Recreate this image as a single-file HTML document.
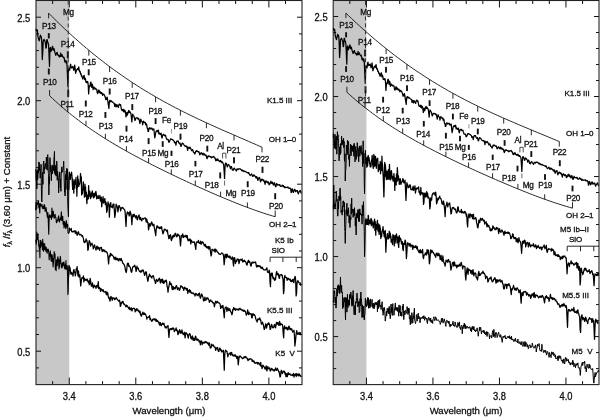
<!DOCTYPE html>
<html><head><meta charset="utf-8"><style>html,body{margin:0;padding:0;background:#fff;width:600px;height:417px;overflow:hidden} svg text{stroke:#111;stroke-width:0.3px}</style></head>
<body><svg width="600" height="417" viewBox="0 0 600 417" style="display:block;will-change:transform">
<g style="font-family:'Liberation Sans',sans-serif" fill="#111">
<rect x="36" y="0.5" width="33.27" height="384.1" fill="#c8c8c8"/>
<path d="M52.63,384.6 V381.1 M52.63,0.5 V4 M69.27,384.6 V377.6 M69.27,0.5 V7.5 M85.9,384.6 V381.1 M85.9,0.5 V4 M102.54,384.6 V381.1 M102.54,0.5 V4 M119.17,384.6 V381.1 M119.17,0.5 V4 M135.81,384.6 V377.6 M135.81,0.5 V7.5 M152.45,384.6 V381.1 M152.45,0.5 V4 M169.08,384.6 V381.1 M169.08,0.5 V4 M185.72,384.6 V381.1 M185.72,0.5 V4 M202.35,384.6 V377.6 M202.35,0.5 V7.5 M218.98,384.6 V381.1 M218.98,0.5 V4 M235.62,384.6 V381.1 M235.62,0.5 V4 M252.25,384.6 V381.1 M252.25,0.5 V4 M268.89,384.6 V377.6 M268.89,0.5 V7.5 M285.52,384.6 V381.1 M285.52,0.5 V4 M36,367.9 H39 M302,367.9 H299 M36,351.2 H41 M302,351.2 H297 M36,334.5 H39 M302,334.5 H299 M36,317.8 H39 M302,317.8 H299 M36,301.1 H39 M302,301.1 H299 M36,284.4 H39 M302,284.4 H299 M36,267.7 H41 M302,267.7 H297 M36,251 H39 M302,251 H299 M36,234.3 H39 M302,234.3 H299 M36,217.6 H39 M302,217.6 H299 M36,200.9 H39 M302,200.9 H299 M36,184.2 H41 M302,184.2 H297 M36,167.5 H39 M302,167.5 H299 M36,150.8 H39 M302,150.8 H299 M36,134.1 H39 M302,134.1 H299 M36,117.4 H39 M302,117.4 H299 M36,100.7 H41 M302,100.7 H297 M36,84 H39 M302,84 H299 M36,67.3 H39 M302,67.3 H299 M36,50.6 H39 M302,50.6 H299 M36,33.9 H39 M302,33.9 H299 M36,17.2 H41 M302,17.2 H297" stroke="#111" stroke-width="1" fill="none"/>
<rect x="36" y="0.5" width="266" height="384.1" fill="none" stroke="#222" stroke-width="1.1"/>
<rect x="333.2" y="0.5" width="33.25" height="384.1" fill="#c8c8c8"/>
<path d="M349.82,384.6 V381.1 M349.82,0.5 V4 M366.45,384.6 V377.6 M366.45,0.5 V7.5 M383.07,384.6 V381.1 M383.07,0.5 V4 M399.7,384.6 V381.1 M399.7,0.5 V4 M416.32,384.6 V381.1 M416.32,0.5 V4 M432.95,384.6 V377.6 M432.95,0.5 V7.5 M449.58,384.6 V381.1 M449.58,0.5 V4 M466.2,384.6 V381.1 M466.2,0.5 V4 M482.83,384.6 V381.1 M482.83,0.5 V4 M499.45,384.6 V377.6 M499.45,0.5 V7.5 M516.07,384.6 V381.1 M516.07,0.5 V4 M532.7,384.6 V381.1 M532.7,0.5 V4 M549.32,384.6 V381.1 M549.32,0.5 V4 M565.95,384.6 V377.6 M565.95,0.5 V7.5 M582.58,384.6 V381.1 M582.58,0.5 V4 M333.2,368.6 H336.2 M599,368.6 H596 M333.2,352.59 H336.2 M599,352.59 H596 M333.2,336.59 H338.2 M599,336.59 H594 M333.2,320.58 H336.2 M599,320.58 H596 M333.2,304.58 H336.2 M599,304.58 H596 M333.2,288.58 H336.2 M599,288.58 H596 M333.2,272.57 H336.2 M599,272.57 H596 M333.2,256.57 H338.2 M599,256.57 H594 M333.2,240.56 H336.2 M599,240.56 H596 M333.2,224.56 H336.2 M599,224.56 H596 M333.2,208.55 H336.2 M599,208.55 H596 M333.2,192.55 H336.2 M599,192.55 H596 M333.2,176.55 H338.2 M599,176.55 H594 M333.2,160.54 H336.2 M599,160.54 H596 M333.2,144.54 H336.2 M599,144.54 H596 M333.2,128.53 H336.2 M599,128.53 H596 M333.2,112.53 H336.2 M599,112.53 H596 M333.2,96.53 H338.2 M599,96.53 H594 M333.2,80.52 H336.2 M599,80.52 H596 M333.2,64.52 H336.2 M599,64.52 H596 M333.2,48.51 H336.2 M599,48.51 H596 M333.2,32.51 H336.2 M599,32.51 H596 M333.2,16.5 H338.2 M599,16.5 H594" stroke="#111" stroke-width="1" fill="none"/>
<rect x="333.2" y="0.5" width="265.8" height="384.1" fill="none" stroke="#222" stroke-width="1.1"/>
<path d="M36,28.84 L36.45,30.6 L36.9,30.97 L37.35,30.01 L37.8,35.52 L38.25,37.92 L38.7,39.53 L39.15,40.85 L39.6,38.99 L40.05,36.28 L40.5,35.18 L40.95,37.08 L41.4,36.98 L41.85,43.36 L42.3,59.52 L42.75,52.57 L43.2,41.26 L43.65,40.16 L44.1,39.41 L44.55,40.4 L45,41.31 L45.45,42.97 L45.9,48.11 L46.35,47.35 L46.8,39.58 L47.25,39.81 L47.7,42.28 L48.15,42.81 L48.6,45.4 L49.05,55.78 L49.5,66.46 L49.95,48.77 L50.4,47.48 L50.85,51.5 L51.3,50.63 L51.75,49.1 L52.2,47.2 L52.65,46.34 L53.1,50.16 L53.55,50.02 L54,48.6 L54.45,50.49 L54.9,52.74 L55.35,53.53 L55.8,55.33 L56.25,53.83 L56.7,52.75 L57.15,52.42 L57.6,54.38 L58.05,55.29 L58.5,55.66 L58.95,55.3 L59.4,57.02 L59.85,55.32 L60.3,56.41 L60.75,53.2 L61.2,56.48 L61.65,55.84 L62.1,54.71 L62.55,56.38 L63,57.18 L63.45,57.66 L63.9,57.14 L64.35,59.02 L64.8,61.84 L65.25,60.31 L65.7,61.26 L66.15,63.2 L66.6,61.05 L67.05,65.59 L67.5,76.55 L67.95,86.37 L68.4,71.1 L68.85,68.47 L69.3,68.82 L69.75,70.26 L70.2,65.94 L70.65,64.26 L71.1,67.44 L71.55,67.98 L72,67.75 L72.45,66.45 L72.9,66.51 L73.35,68.5 L73.8,70.37 L74.25,68.49 L74.7,65.09 L75.15,68.68 L75.6,73.31 L76.05,71.54 L76.5,70.63 L76.95,69.21 L77.4,68.91 L77.85,68.35 L78.3,69.71 L78.75,66.94 L79.2,70.5 L79.65,71.92 L80.1,71.31 L80.55,74.02 L81,73.64 L81.45,76.16 L81.9,75.86 L82.35,77.51 L82.8,79.11 L83.25,77.37 L83.7,75.8 L84.15,75.48 L84.6,79.64 L85.05,77.99 L85.5,79.02 L85.95,82.28 L86.4,81.58 L86.85,82.65 L87.3,81.49 L87.75,81.82 L88.2,84.82 L88.65,93.93 L89.1,87.5 L89.55,85.94 L90,86.6 L90.45,82.69 L90.9,82.1 L91.35,85.25 L91.8,87.49 L92.25,84.17 L92.7,85.62 L93.15,89.67 L93.6,87.57 L94.05,87.22 L94.5,87.91 L94.95,89.11 L95.4,88.26 L95.85,89.08 L96.3,89.01 L96.75,89.3 L97.2,92.66 L97.65,93.58 L98.1,92.4 L98.55,90.17 L99,90.06 L99.45,92.72 L99.9,91.25 L100.35,92.22 L100.8,93.53 L101.25,92.55 L101.7,92.5 L102.15,94 L102.6,95.32 L103.05,93.82 L103.5,94.56 L103.95,94.31 L104.4,94.98 L104.85,96.38 L105.3,97.36 L105.75,99.74 L106.2,97.99 L106.65,99.44 L107.1,97.15 L107.55,99.31 L108,102.37 L108.45,105.38 L108.9,108.42 L109.35,102.01 L109.8,100.29 L110.25,100.56 L110.7,101.85 L111.15,101.1 L111.6,100.93 L112.05,101.76 L112.5,102.09 L112.95,102.49 L113.4,102.73 L113.85,103.19 L114.3,103.31 L114.75,106.37 L115.2,104.35 L115.65,104.22 L116.1,106.91 L116.55,105.9 L117,104.61 L117.45,105.77 L117.9,106.55 L118.35,107.46 L118.8,105.13 L119.25,104.04 L119.7,104.25 L120.15,105.16 L120.6,104.72 L121.05,107.42 L121.5,109.54 L121.95,110.56 L122.4,109.93 L122.85,109.4 L123.3,111.31 L123.75,109.31 L124.2,112.19 L124.65,110.26 L125.1,110.71 L125.55,112.6 L126,116.9 L126.45,115.43 L126.9,112.4 L127.35,115.05 L127.8,113.57 L128.25,111.95 L128.7,110.44 L129.15,112.64 L129.6,111.26 L130.05,111.95 L130.5,112.97 L130.95,113.59 L131.4,117.4 L131.85,121.83 L132.3,116.45 L132.75,114.17 L133.2,115.28 L133.65,115.95 L134.1,116.65 L134.55,118.76 L135,120.51 L135.45,119.47 L135.9,117.83 L136.35,117.96 L136.8,117.89 L137.25,118.11 L137.7,117.86 L138.15,119.21 L138.6,118.54 L139.05,119.09 L139.5,121.43 L139.95,123.69 L140.4,121.5 L140.85,119.23 L141.3,121 L141.75,121.29 L142.2,121.53 L142.65,124.76 L143.1,122.38 L143.55,121.13 L144,122.12 L144.45,122.44 L144.9,122.96 L145.35,122.42 L145.8,124.89 L146.25,123.77 L146.7,124.6 L147.15,128.09 L147.6,128.37 L148.05,131.39 L148.5,131.45 L148.95,128.72 L149.4,127.7 L149.85,127.93 L150.3,129.02 L150.75,128.27 L151.2,128.79 L151.65,128.08 L152.1,128.43 L152.55,130.03 L153,129.24 L153.45,129.17 L153.9,129.01 L154.35,133.81 L154.8,137.92 L155.25,135.73 L155.7,132.91 L156.15,131.11 L156.6,131.45 L157.05,130.43 L157.5,130.86 L157.95,131.91 L158.4,130.18 L158.85,133.98 L159.3,132.82 L159.75,134.09 L160.2,134.39 L160.65,133.49 L161.1,133.17 L161.55,136.5 L162,138.1 L162.45,136.17 L162.9,134.66 L163.35,134.95 L163.8,134.28 L164.25,135.54 L164.7,135.78 L165.15,135.38 L165.6,135.26 L166.05,137.4 L166.5,138.68 L166.95,139.39 L167.4,139.51 L167.85,139.42 L168.3,139.82 L168.75,142.2 L169.2,142.17 L169.65,141.03 L170.1,140.05 L170.55,138.82 L171,138.89 L171.45,139.32 L171.9,139.37 L172.35,139.54 L172.8,140.04 L173.25,140.07 L173.7,140.94 L174.15,141.26 L174.6,142.95 L175.05,142.3 L175.5,142.26 L175.95,145.26 L176.4,142.41 L176.85,141.02 L177.3,141.2 L177.75,141.41 L178.2,140.98 L178.65,142.63 L179.1,143.21 L179.55,143.93 L180,142.95 L180.45,144.43 L180.9,146.48 L181.35,145.92 L181.8,144.18 L182.25,143.05 L182.7,143.28 L183.15,143.82 L183.6,143.96 L184.05,145.03 L184.5,145.79 L184.95,145.98 L185.4,146.44 L185.85,145.99 L186.3,146.56 L186.75,146.23 L187.2,147.97 L187.65,150.45 L188.1,147.14 L188.55,147.75 L189,147.82 L189.45,148.34 L189.9,147.16 L190.35,147.84 L190.8,148.63 L191.25,149.93 L191.7,150.81 L192.15,149.9 L192.6,149.57 L193.05,150.93 L193.5,152.3 L193.95,152.31 L194.4,153.21 L194.85,154.07 L195.3,152.76 L195.75,151.08 L196.2,151.63 L196.65,150.66 L197.1,151.52 L197.55,151.11 L198,151.75 L198.45,152.13 L198.9,151.73 L199.35,153.26 L199.8,154.91 L200.25,154.4 L200.7,153.48 L201.15,152.57 L201.6,153.56 L202.05,153.83 L202.5,154.77 L202.95,153.11 L203.4,153.84 L203.85,155.06 L204.3,153.84 L204.75,154.17 L205.2,155.16 L205.65,155.64 L206.1,155.16 L206.55,157.12 L207,158.72 L207.45,157.82 L207.9,156.02 L208.35,156.48 L208.8,155.75 L209.25,156.43 L209.7,156.41 L210.15,156.99 L210.6,156.72 L211.05,156.66 L211.5,157.95 L211.95,157.62 L212.4,156.93 L212.85,156.96 L213.3,156.96 L213.75,156.33 L214.2,157.65 L214.65,157.98 L215.1,157.9 L215.55,160.08 L216,160.83 L216.45,159.92 L216.9,159.12 L217.35,160.32 L217.8,158.87 L218.25,160.23 L218.7,160.77 L219.15,160.84 L219.6,161.72 L220.05,160.82 L220.5,160.45 L220.95,161.96 L221.4,161.48 L221.85,162.73 L222.3,161.82 L222.75,162.65 L223.2,163.57 L223.65,164.3 L224.1,170.93 L224.55,178.44 L225,167.73 L225.45,163.24 L225.9,162.99 L226.35,163.64 L226.8,165.08 L227.25,166.91 L227.7,165.96 L228.15,164.3 L228.6,164.79 L229.05,165.07 L229.5,166.02 L229.95,166.27 L230.4,168.64 L230.85,167.07 L231.3,166.54 L231.75,167.48 L232.2,169.89 L232.65,169.95 L233.1,170.43 L233.55,169.07 L234,168.27 L234.45,168.14 L234.9,169.18 L235.35,169.64 L235.8,170.06 L236.25,171.01 L236.7,169.48 L237.15,168.88 L237.6,169 L238.05,169.78 L238.5,169.08 L238.95,168.62 L239.4,168.91 L239.85,168.95 L240.3,168.8 L240.75,169.45 L241.2,169.69 L241.65,170.6 L242.1,169.83 L242.55,170.72 L243,171.09 L243.45,170.61 L243.9,171.53 L244.35,171.34 L244.8,171.14 L245.25,171.7 L245.7,171.78 L246.15,171.93 L246.6,172.28 L247.05,172.49 L247.5,172.86 L247.95,172.49 L248.4,173.34 L248.85,172.71 L249.3,173.98 L249.75,174.88 L250.2,175.51 L250.65,174.82 L251.1,174.47 L251.55,173.93 L252,174.86 L252.45,176.28 L252.9,175.78 L253.35,174.95 L253.8,176.08 L254.25,175.15 L254.7,175.84 L255.15,176.16 L255.6,176.71 L256.05,178.1 L256.5,176.66 L256.95,176.78 L257.4,178.66 L257.85,180.44 L258.3,178.99 L258.75,177.79 L259.2,178.41 L259.65,177.52 L260.1,180.03 L260.55,181.98 L261,179.97 L261.45,180.6 L261.9,179.03 L262.35,179.54 L262.8,179.61 L263.25,180.85 L263.7,180.02 L264.15,180.99 L264.6,182.45 L265.05,184.37 L265.5,181.67 L265.95,180.83 L266.4,181.95 L266.85,181.48 L267.3,182.81 L267.75,182.08 L268.2,181.82 L268.65,182.93 L269.1,184.87 L269.55,183.1 L270,184.02 L270.45,182.99 L270.9,181.24 L271.35,182.85 L271.8,183.42 L272.25,182.03 L272.7,182.68 L273.15,184.73 L273.6,185.04 L274.05,183.39 L274.5,182.76 L274.95,184.19 L275.4,186.41 L275.85,186.75 L276.3,184.82 L276.75,183.4 L277.2,184.44 L277.65,185.09 L278.1,184.9 L278.55,184.96 L279,184.66 L279.45,185.35 L279.9,184.67 L280.35,186.21 L280.8,186.48 L281.25,186.5 L281.7,185.84 L282.15,185.14 L282.6,185.72 L283.05,186.47 L283.5,185.66 L283.95,186.75 L284.4,187.68 L284.85,186.65 L285.3,187.33 L285.75,187.7 L286.2,187.51 L286.65,187.4 L287.1,187.42 L287.55,187.56 L288,186.98 L288.45,188.15 L288.9,188.24 L289.35,188.35 L289.8,187.84 L290.25,188.44 L290.7,189.25 L291.15,192.7 L291.6,191.92 L292.05,188.78 L292.5,189.26 L292.95,191.26 L293.4,192.45 L293.85,191.17 L294.3,190.05 L294.75,189.21 L295.2,190.32 L295.65,191.73 L296.1,191.31 L296.55,190.55 L297,190.7 L297.45,190.53 L297.9,192.77 L298.35,193.84 L298.8,192.17 L299.25,191.86 L299.7,191.04 L300.15,190.39 L300.6,191.39 L301.05,193.09 L301.5,193.03" fill="none" stroke="#000" stroke-width="1.25" stroke-linejoin="round" />
<path d="M35.7,169.18 L35.98,172.66 L36.26,180.61 L36.54,171.32 L36.82,188.96 L37.1,178.16 L37.38,170.21 L37.66,179.72 L37.94,176.21 L38.22,168.51 L38.5,173.1 L38.78,161.96 L39.06,163.17 L39.34,162.72 L39.62,170.43 L39.9,168.97 L40.18,178.18 L40.46,171.85 L40.74,171.78 L41.02,164.26 L41.3,183.92 L41.58,198.58 L41.86,201.95 L42.14,189.56 L42.42,172.03 L42.7,179.65 L42.98,184.4 L43.26,164.21 L43.54,162.17 L43.82,161.03 L44.1,173.82 L44.38,167.24 L44.66,169.31 L44.94,165.96 L45.22,163.44 L45.5,165.31 L45.78,164.34 L46.06,168.79 L46.34,157.13 L46.62,161.33 L46.9,161.93 L47.18,170.18 L47.46,156.69 L47.74,154.66 L48.02,158.06 L48.3,172.24 L48.58,173.63 L48.86,194.93 L49.14,177.3 L49.42,184.21 L49.7,175.4 L49.98,157.61 L50.26,166.55 L50.54,171.67 L50.82,165.63 L51.1,171.71 L51.38,180.81 L51.66,169.66 L51.94,169.56 L52.22,164.93 L52.5,173.79 L52.78,170.44 L53.06,170.59 L53.34,166.29 L53.62,170.51 L53.9,159.25 L54.18,156.36 L54.46,151.36 L54.74,173.42 L55.02,164.93 L55.3,174.97 L55.58,168.02 L55.86,166.29 L56.14,176.19 L56.42,172.88 L56.7,161.08 L56.98,164.53 L57.26,180.25 L57.54,171.17 L57.82,173.19 L58.1,176.95 L58.38,180.08 L58.66,192.8 L58.94,184.73 L59.22,176.02 L59.5,176.07 L59.78,171.86 L60.06,179.94 L60.34,187.44 L60.62,179.22 L60.9,191.33 L61.18,173.66 L61.46,173.52 L61.74,166.83 L62.02,169.4 L62.3,172.22 L62.58,171 L62.86,170.23 L63.14,167.94 L63.42,165.57 L63.7,161.18 L63.98,170.47 L64.26,181.9 L64.54,192.19 L64.82,190.59 L65.1,196.03 L65.38,180.92 L65.66,174.56 L65.94,189.59 L66.22,170.88 L66.5,179.64 L66.78,168.38 L67.06,177.03 L67.34,168.84 L67.62,196.34 L67.9,207.06 L68.18,211.91 L68.46,216.77 L68.74,190.35 L69.02,177.19" fill="none" stroke="#000" stroke-width="1.0" stroke-linejoin="round" /><path d="M68.74,190.35 L69.02,177.19 L69.3,172.03 L69.58,175.04 L69.86,173.81 L70.14,178.52 L70.42,179.43 L70.7,174.88 L70.98,174.16 L71.26,174.32 L71.54,172.08 L71.82,174.66 L72.1,177.81 L72.38,184.78 L72.66,189.38 L72.94,179.35 L73.22,184.75 L73.5,181.67 L73.78,193.21 L74.06,186.34 L74.34,188.12 L74.62,181.3 L74.9,179.77 L75.18,183.38 L75.46,181.7 L75.74,184.42 L76.02,177.44 L76.3,188.42 L76.58,185.45 L76.86,196.15 L77.14,186.13 L77.42,187.64 L77.7,175.93 L77.98,183.36 L78.26,179.12 L78.54,182.78 L78.82,186.42 L79.1,184.1 L79.38,183.56 L79.66,184.17 L79.94,182.75 L80.22,179.85 L80.5,173.5 L80.78,176.73 L81.06,179.91 L81.34,176.9 L81.62,194.99 L81.9,193.8 L82.18,191.44 L82.46,193.55 L82.74,189.85 L83.02,185.74 L83.3,181.81 L83.58,187.91 L83.86,189.79 L84.14,187.31 L84.42,197.23 L84.7,194.42 L84.98,184.09 L85.26,192.62 L85.54,186.96 L85.82,196.54 L86.1,195.77 L86.38,192.22 L86.66,200.52 L86.94,203.57 L87.22,194.96 L87.5,199.36 L87.78,199.07 L88.06,196.39 L88.34,198.81 L88.62,185.62 L88.9,193.72 L89.18,196.12 L89.46,192.31 L89.74,191.07 L90.02,194.37 L90.47,198.72 L90.92,196.81 L91.37,192.84 L91.82,196.95 L92.27,190.82 L92.72,195.13 L93.17,194.04 L93.62,197.82 L94.07,193.22 L94.52,196.84 L94.97,196.06 L95.42,192.82 L95.87,191.37 L96.32,194.11 L96.77,198.9 L97.22,198.39 L97.67,197.25 L98.12,195.27 L98.57,198.4 L99.02,198.2 L99.47,198.14 L99.92,195.49 L100.37,200.67 L100.82,201.23 L101.27,197.18 L101.72,206.78 L102.17,202.17 L102.62,199.46 L103.07,196.73 L103.52,203.01 L103.97,202.08 L104.42,200.02 L104.87,198.52 L105.32,204.68 L105.77,201.86 L106.22,203.01 L106.67,212.36 L107.12,210.97 L107.57,205.98 L108.02,201.76 L108.47,204.37 L108.92,204.72 L109.37,217.16 L109.82,208.09 L110.27,203.14 L110.72,202.6 L111.17,207.05 L111.62,206.62 L112.07,206.49 L112.52,207.82 L112.97,204.45 L113.42,204.55 L113.87,203.95 L114.32,209.88 L114.77,217.49 L115.22,214.42 L115.67,210.49 L116.12,204.16 L116.57,205.37 L117.02,206.28 L117.47,207.82 L117.92,211.98 L118.37,208.79 L118.82,205.72 L119.27,205.69 L119.72,207.13 L120.17,207.25 L120.62,210.8 L121.07,208.83 L121.52,208.3 L121.97,207.34 L122.42,208.11 L122.87,207.72 L123.32,208.11 L123.77,208.96 L124.22,209.22 L124.67,209.92 L125.12,211.74 L125.57,219.71 L126.02,226.45 L126.47,216.77 L126.92,213.72 L127.37,211.97 L127.82,213.71 L128.27,213.1 L128.72,212.62 L129.17,216 L129.62,215.14 L130.07,211.05 L130.52,212.86 L130.97,213.84 L131.42,217.32 L131.87,224.67 L132.32,217.92 L132.77,215.01 L133.22,214.55 L133.67,216.67 L134.12,214.07 L134.57,215.73 L135.02,215.58 L135.47,217.79 L135.92,217.43 L136.37,215.52 L136.82,218.03 L137.27,219.95 L137.72,218.5 L138.17,216.13 L138.62,216.07 L139.07,214.92 L139.52,218.3 L139.97,219.71 L140.42,217.31 L140.87,218.69 L141.32,219.92 L141.77,220.93 L142.22,218.54 L142.67,218.31 L143.12,218.87 L143.57,219.18 L144.02,218.28 L144.47,218.15 L144.92,218.13 L145.37,217.92 L145.82,220.19 L146.27,222.05 L146.72,218.86 L147.17,221.59 L147.62,222.81 L148.07,222.54 L148.52,229.92 L148.97,227.43 L149.42,224.07 L149.87,223.59 L150.32,226.03 L150.77,225.05 L151.22,222.92 L151.67,221.97 L152.12,222.94 L152.57,225.09 L153.02,225.75 L153.47,225.05 L153.92,224.28 L154.37,228.15 L154.82,230.13 L155.27,232.75 L155.72,235.55 L156.17,229.59 L156.62,227.19 L157.07,225.56 L157.52,227.74 L157.97,226.72 L158.42,227.81 L158.87,227.27 L159.32,228.62 L159.77,228.48 L160.22,226.99 L160.67,227.74 L161.12,228.49 L161.57,226.54 L162.02,229.64 L162.47,231.46 L162.92,233.78 L163.37,233.05 L163.82,231.27 L164.27,229.01 L164.72,230.03 L165.17,229.33 L165.62,230.01 L166.07,229.78 L166.52,230.72 L166.97,231.8 L167.42,230.12 L167.87,234.15 L168.32,235.53 L168.77,238.55 L169.22,238.32 L169.67,235.43 L170.12,235.8 L170.57,234.72 L171.02,239.46 L171.47,240.65 L171.92,239.05 L172.37,236.46 L172.82,237.88 L173.27,235.05 L173.72,235.66 L174.17,236.64 L174.62,235.89 L175.07,233.44 L175.52,233.34 L175.97,234.47 L176.42,236.53 L176.87,236.88 L177.32,235.55 L177.77,233.94 L178.22,235.27 L178.67,234.82 L179.12,236.04 L179.57,235.84 L180.02,240.21 L180.47,245.88 L180.92,241.18 L181.37,235.43 L181.82,236.28 L182.27,235.68 L182.72,233.86 L183.17,237.56 L183.62,237.44 L184.07,235.67 L184.52,236.62 L184.97,236.46 L185.42,236.19 L185.87,235.2 L186.32,237.28 L186.77,237.71 L187.22,235.49 L187.67,239.27 L188.12,240.78 L188.57,239.29 L189.02,240.59 L189.47,240.18 L189.92,238.77 L190.37,240.22 L190.82,243.8 L191.27,240.24 L191.72,241.21 L192.17,241.88 L192.62,242.17 L193.07,242.49 L193.52,242.49 L193.97,241.72 L194.42,242.04 L194.87,244.38 L195.32,246.68 L195.77,249.39 L196.22,243.32 L196.67,242.03 L197.12,241.77 L197.57,242.26 L198.02,242.56 L198.47,240.34 L198.92,242.33 L199.37,243.25 L199.82,242.66 L200.27,243.45 L200.72,241.2 L201.17,244.34 L201.62,242.27 L202.07,242.98 L202.52,241.77 L202.97,242.16 L203.42,243.26 L203.87,244.29 L204.32,245.8 L204.77,245.07 L205.22,244.24 L205.67,246.54 L206.12,245.85 L206.57,247.71 L207.02,247.02 L207.47,248.07 L207.92,246.66 L208.37,246.48 L208.82,249.06 L209.27,247.58 L209.72,246.7 L210.17,249.31 L210.62,252.71 L211.07,255.95 L211.52,254.52 L211.97,249.39 L212.42,249.26 L212.87,249.65 L213.32,250.39 L213.77,250.27 L214.22,251.19 L214.67,249.16 L215.12,252.12 L215.57,249.2 L216.02,251 L216.47,250.13 L216.92,251.11 L217.37,252.23 L217.82,252.07 L218.27,252.87 L218.72,253.91 L219.17,253.6 L219.62,254.05 L220.07,254.44 L220.52,254.46 L220.97,253.88 L221.42,253.43 L221.87,252.86 L222.32,253.19 L222.77,253.44 L223.22,254.55 L223.67,256.56 L224.12,264.78 L224.57,261.13 L225.02,254.33 L225.47,254.31 L225.92,256.11 L226.37,257.98 L226.82,254.06 L227.27,254.35 L227.72,256.52 L228.17,257.23 L228.62,256.24 L229.07,255.96 L229.52,257.94 L229.97,256.17 L230.42,257.4 L230.87,258.44 L231.32,259.34 L231.77,258.73 L232.22,256.93 L232.67,257.36 L233.12,262.75 L233.57,266.03 L234.02,258.15 L234.47,257.54 L234.92,259 L235.37,263.52 L235.82,262.12 L236.27,260.64 L236.72,261.36 L237.17,258.91 L237.62,259.38 L238.07,259.61 L238.52,259.31 L238.97,263.69 L239.42,261.98 L239.87,259.8 L240.32,259.38 L240.77,259.61 L241.22,260.15 L241.67,260.07 L242.12,258.92 L242.57,261.84 L243.02,260.59 L243.47,261.73 L243.92,261.61 L244.37,260.08 L244.82,260.93 L245.27,261.54 L245.72,261.97 L246.17,262.88 L246.62,264.74 L247.07,265.14 L247.52,262.61 L247.97,261.58 L248.42,260.25 L248.87,262.36 L249.32,261.32 L249.77,261.73 L250.22,263.39 L250.67,265.57 L251.12,266.04 L251.57,263.35 L252.02,262.25 L252.47,263.01 L252.92,262.04 L253.37,262.89 L253.82,262.02 L254.27,262.1 L254.72,262.5 L255.17,262.77 L255.62,262.02 L256.07,264.45 L256.52,266.86 L256.97,266.75 L257.42,265.28 L257.87,266.61 L258.32,266.5 L258.77,265.62 L259.22,266.52 L259.67,265.87 L260.12,265.85 L260.57,267.64 L261.02,268.17 L261.47,267.25 L261.92,268.51 L262.37,267.17 L262.82,268.71 L263.27,269.02 L263.72,269.77 L264.17,269.87 L264.62,270.02 L265.07,269.84 L265.52,269.94 L265.97,269.63 L266.42,268.55 L266.87,267.79 L267.32,270.92 L267.77,272.41 L268.22,272.51 L268.67,272.58 L269.12,270.12 L269.57,271.36 L270.02,281.85 L270.47,286.73 L270.92,274.32 L271.37,273.13 L271.82,275.74 L272.27,273.05 L272.72,277.01 L273.17,278.75 L273.62,277.5 L274.07,278.5 L274.52,280.32 L274.97,278.51 L275.42,279.92 L275.87,276.34 L276.32,272.63 L276.77,271.49 L277.22,274.76 L277.67,274.35 L278.12,273.52 L278.57,275.2 L279.02,277.86 L279.47,278.37 L279.92,274.93 L280.37,274.76 L280.82,274.84 L281.27,274.52 L281.72,275.51 L282.17,275.17 L282.62,278.09 L283.07,279.54 L283.52,293.63 L283.97,290.68 L284.42,277.36 L284.87,275.48 L285.32,277.57 L285.77,277.22 L286.22,277.66 L286.67,277.62 L287.12,280.43 L287.57,278.75 L288.02,278.24 L288.47,279.17 L288.92,278.75 L289.37,279.94 L289.82,279.89 L290.27,279.26 L290.72,281.38 L291.17,280.4 L291.62,281.7 L292.07,281.48 L292.52,279.55 L292.97,279.48 L293.42,281.92 L293.87,282.75 L294.32,278.84 L294.77,277.08 L295.22,276.45 L295.67,280.4 L296.12,295.99 L296.57,293.37 L297.02,282.85 L297.47,281.32 L297.92,280.65 L298.37,281.94 L298.82,282.69 L299.27,282.85 L299.72,282.77 L300.17,282.93 L300.62,285.12 L301.07,284.59" fill="none" stroke="#000" stroke-width="1.25" stroke-linejoin="round" />
<path d="M35.7,210.24 L36.15,202.35 L36.6,208.88 L37.05,203.39 L37.5,202.95 L37.95,204 L38.4,200.96 L38.85,207.63 L39.3,203.52 L39.75,213.01 L40.2,204.16 L40.65,203.73 L41.1,206.11 L41.55,204.94 L42,204.54 L42.45,208 L42.9,208.58 L43.35,206.07 L43.8,208.8 L44.25,204.6 L44.7,205.53 L45.15,211.45 L45.6,209.65 L46.05,207.59 L46.5,211 L46.95,213.83 L47.4,217.36 L47.85,212.56 L48.3,221.14 L48.75,234.32 L49.2,216.08 L49.65,214.71 L50.1,217.36 L50.55,216.15 L51,215.55 L51.45,219.56 L51.9,208.1 L52.35,217.2 L52.8,212.16 L53.25,211.17 L53.7,216.25 L54.15,218.38 L54.6,216.02 L55.05,214.19 L55.5,217.53 L55.95,217.53 L56.4,222.71 L56.85,222.4 L57.3,220.14 L57.75,220.75 L58.2,217.39 L58.65,215.84 L59.1,221.04 L59.55,221.91 L60,219.32 L60.45,217.79 L60.9,219.61 L61.35,211.87 L61.8,220.53 L62.25,220.3 L62.7,216.2 L63.15,224.19 L63.6,221.45 L64.05,227.94 L64.5,221.5 L64.95,222.58 L65.4,226.66 L65.85,228.7 L66.3,220.53 L66.75,224.66 L67.2,227.24 L67.65,224.2 L68.1,233.03 L68.55,233.33 L69,233.21" fill="none" stroke="#000" stroke-width="1.1" stroke-linejoin="round" /><path d="M69,233.21 L69.45,228.21 L69.9,230.5 L70.35,229.72 L70.8,229.49 L71.25,228.42 L71.7,231.73 L72.15,231.85 L72.6,231.7 L73.05,231.97 L73.5,231.59 L73.95,230.91 L74.4,230.91 L74.85,231.07 L75.3,233.33 L75.75,230.86 L76.2,231.98 L76.65,233.38 L77.1,235.31 L77.55,234.4 L78,232.14 L78.45,231.78 L78.9,233.49 L79.35,234.83 L79.8,234.66 L80.25,234.52 L80.7,234.4 L81.15,235.17 L81.6,235.19 L82.05,236.55 L82.5,235.65 L82.95,237.15 L83.4,238.39 L83.85,241.73 L84.3,242.52 L84.75,242.55 L85.2,240.97 L85.65,241.75 L86.1,238.83 L86.55,240.47 L87,240.52 L87.45,244.13 L87.9,250.34 L88.35,248.72 L88.8,242.99 L89.25,240.7 L89.7,241.29 L90.15,242.95 L90.6,246.18 L91.05,244.64 L91.5,244.63 L91.95,243.09 L92.4,244.46 L92.85,245.27 L93.3,248.87 L93.75,246.68 L94.2,245.8 L94.65,244.86 L95.1,247.81 L95.55,248.09 L96,250.02 L96.45,247.7 L96.9,246.16 L97.35,246.91 L97.8,249.02 L98.25,247.42 L98.7,247.22 L99.15,248.58 L99.6,250.31 L100.05,248.09 L100.5,247.83 L100.95,247.4 L101.4,247.45 L101.85,250.11 L102.3,251.7 L102.75,249.88 L103.2,249.66 L103.65,250.36 L104.1,251.61 L104.55,250.13 L105,250.96 L105.45,251.79 L105.9,251.47 L106.35,252.18 L106.8,252.01 L107.25,253.04 L107.7,254.7 L108.15,259.09 L108.6,263.83 L109.05,257.73 L109.5,255.7 L109.95,256.76 L110.4,253.43 L110.85,255.57 L111.3,254.08 L111.75,254.46 L112.2,255.2 L112.65,255.66 L113.1,256.04 L113.55,256.57 L114,258.84 L114.45,257.31 L114.9,258.66 L115.35,259.76 L115.8,257.07 L116.25,259.27 L116.7,258.62 L117.15,259.97 L117.6,258.36 L118.05,259.13 L118.5,260.93 L118.95,260.88 L119.4,258.58 L119.85,259.13 L120.3,258.97 L120.75,260.53 L121.2,258.46 L121.65,260.24 L122.1,260.55 L122.55,262.86 L123,263.15 L123.45,263.67 L123.9,264.31 L124.35,265.12 L124.8,266.02 L125.25,269.01 L125.7,271.18 L126.15,272.58 L126.6,270.77 L127.05,266.23 L127.5,263.25 L127.95,264.87 L128.4,263.29 L128.85,266.4 L129.3,265.75 L129.75,266.56 L130.2,267.05 L130.65,269.09 L131.1,271.42 L131.55,272.32 L132,270.98 L132.45,268.06 L132.9,266.75 L133.35,266.62 L133.8,266.18 L134.25,266.69 L134.7,265.12 L135.15,266.85 L135.6,267.67 L136.05,271.46 L136.5,270.11 L136.95,266.2 L137.4,268.36 L137.85,268.53 L138.3,268.12 L138.75,270.01 L139.2,270.8 L139.65,271.69 L140.1,271.41 L140.55,271.07 L141,272.43 L141.45,270.37 L141.9,271 L142.35,271.16 L142.8,269.77 L143.25,270.3 L143.7,271.93 L144.15,273.56 L144.6,275.39 L145.05,274.45 L145.5,272.18 L145.95,271.79 L146.4,272.28 L146.85,276.04 L147.3,278.39 L147.75,281.27 L148.2,279.99 L148.65,276.13 L149.1,276.57 L149.55,274.22 L150,275.61 L150.45,275.59 L150.9,276.95 L151.35,276.8 L151.8,278.16 L152.25,276.11 L152.7,276.23 L153.15,275.71 L153.6,276.24 L154.05,278.7 L154.5,280.35 L154.95,280.69 L155.4,283.29 L155.85,282.8 L156.3,279.53 L156.75,279.41 L157.2,280.31 L157.65,281.48 L158.1,280.62 L158.55,279.87 L159,278.57 L159.45,278.23 L159.9,280.36 L160.35,283.02 L160.8,280 L161.25,279.39 L161.7,280.16 L162.15,282.71 L162.6,279.18 L163.05,281.33 L163.5,283.41 L163.95,281.21 L164.4,282.84 L164.85,281.69 L165.3,280.43 L165.75,281.41 L166.2,280.17 L166.65,282.22 L167.1,286.48 L167.55,287.39 L168,292.13 L168.45,288.4 L168.9,286.49 L169.35,283.85 L169.8,281.57 L170.25,283.44 L170.7,284.66 L171.15,283.65 L171.6,284.82 L172.05,288.95 L172.5,289.49 L172.95,286.35 L173.4,287 L173.85,289.34 L174.3,287.65 L174.75,288.17 L175.2,288.73 L175.65,287.08 L176.1,285.87 L176.55,285.68 L177,287.71 L177.45,289.66 L177.9,287.95 L178.35,287.9 L178.8,287.99 L179.25,290.43 L179.7,289.89 L180.15,288.46 L180.6,286.12 L181.05,285.67 L181.5,286.98 L181.95,286.53 L182.4,286.75 L182.85,288.4 L183.3,287.97 L183.75,290.33 L184.2,288.37 L184.65,287.18 L185.1,288.55 L185.55,288.57 L186,288.12 L186.45,290.14 L186.9,288.82 L187.35,288.51 L187.8,293.37 L188.25,290.63 L188.7,291.55 L189.15,289.99 L189.6,289.71 L190.05,292.39 L190.5,290.61 L190.95,292.16 L191.4,293.23 L191.85,292.68 L192.3,292.79 L192.75,293.23 L193.2,293.83 L193.65,292.96 L194.1,294.15 L194.55,294.4 L195,296.14 L195.45,294.05 L195.9,293.4 L196.35,294.78 L196.8,293.95 L197.25,295.04 L197.7,295.48 L198.15,295.79 L198.6,293.74 L199.05,294.08 L199.5,293.1 L199.95,296.76 L200.4,298.27 L200.85,296.83 L201.3,295.11 L201.75,293.9 L202.2,295.61 L202.65,296.32 L203.1,297.72 L203.55,300.93 L204,300.32 L204.45,300.51 L204.9,297.17 L205.35,299.23 L205.8,300.24 L206.25,299.57 L206.7,297.82 L207.15,297.75 L207.6,298.75 L208.05,298.16 L208.5,299.66 L208.95,300.08 L209.4,302.35 L209.85,301.4 L210.3,300.61 L210.75,299.81 L211.2,301.44 L211.65,301.45 L212.1,301.23 L212.55,302.7 L213,302.97 L213.45,302.75 L213.9,303.29 L214.35,306.79 L214.8,305.12 L215.25,302.34 L215.7,301.1 L216.15,301.83 L216.6,303.08 L217.05,302.12 L217.5,301.32 L217.95,302.67 L218.4,302.68 L218.85,303.13 L219.3,302.99 L219.75,303.38 L220.2,304.61 L220.65,308.31 L221.1,307.69 L221.55,307.44 L222,305.74 L222.45,307.68 L222.9,305.28 L223.35,308.71 L223.8,313.04 L224.25,317.79 L224.7,310.38 L225.15,307.62 L225.6,307.6 L226.05,306.85 L226.5,308.59 L226.95,311.29 L227.4,309.59 L227.85,307.71 L228.3,308.87 L228.75,310.65 L229.2,310.22 L229.65,308.62 L230.1,310.09 L230.55,311.47 L231,311.97 L231.45,312.86 L231.9,314.75 L232.35,313.59 L232.8,309.39 L233.25,309.71 L233.7,307.5 L234.15,309.74 L234.6,308.29 L235.05,308.48 L235.5,310.3 L235.95,309.32 L236.4,308.89 L236.85,309.21 L237.3,309.83 L237.75,309.09 L238.2,308.97 L238.65,310.18 L239.1,309.15 L239.55,308.57 L240,308.11 L240.45,309.45 L240.9,309.48 L241.35,310.1 L241.8,309.49 L242.25,309.7 L242.7,310.81 L243.15,310.13 L243.6,311.3 L244.05,311.11 L244.5,310.36 L244.95,311.19 L245.4,311.32 L245.85,313.07 L246.3,315.16 L246.75,314.2 L247.2,312.9 L247.65,309.96 L248.1,313.15 L248.55,314.66 L249,312.18 L249.45,313.94 L249.9,314.09 L250.35,314.04 L250.8,313.54 L251.25,313.72 L251.7,317.66 L252.15,317.87 L252.6,314.18 L253.05,313.56 L253.5,315.16 L253.95,315.17 L254.4,314.61 L254.85,315.61 L255.3,316.67 L255.75,318.67 L256.2,320.15 L256.65,320.4 L257.1,322.14 L257.55,320.22 L258,318.73 L258.45,319.14 L258.9,319.59 L259.35,319.11 L259.8,317.78 L260.25,320.07 L260.7,319.94 L261.15,323 L261.6,324.24 L262.05,323.28 L262.5,322.11 L262.95,323.93 L263.4,324.59 L263.85,327.52 L264.3,329.49 L264.75,328.49 L265.2,326.54 L265.65,323.9 L266.1,324.39 L266.55,328.03 L267,326.09 L267.45,324.4 L267.9,323.47 L268.35,324.41 L268.8,322.75 L269.25,323.76 L269.7,326.17 L270.15,329.35 L270.6,329.22 L271.05,326.5 L271.5,324.44 L271.95,325.12 L272.4,327.14 L272.85,327.77 L273.3,327.05 L273.75,327.58 L274.2,324.91 L274.65,324.55 L275.1,325.83 L275.55,327.78 L276,325.15 L276.45,322.43 L276.9,324.02 L277.35,324.18 L277.8,322.27 L278.25,324.03 L278.7,325.31 L279.15,323.91 L279.6,321.48 L280.05,325.38 L280.5,323.25 L280.95,324.71 L281.4,324.17 L281.85,324.14 L282.3,324.49 L282.75,326.66 L283.2,333.53 L283.65,337.76 L284.1,328.4 L284.55,325.85 L285,328.64 L285.45,328.05 L285.9,327.66 L286.35,329.08 L286.8,327.26 L287.25,328.35 L287.7,329.97 L288.15,329.46 L288.6,326.9 L289.05,326.06 L289.5,327.74 L289.95,329.67 L290.4,328.43 L290.85,328.81 L291.3,329.75 L291.75,328.92 L292.2,330.61 L292.65,332.1 L293.1,331.29 L293.55,330.85 L294,330.25 L294.45,335.44 L294.9,346.03 L295.35,342.15 L295.8,337.63 L296.25,333 L296.7,330.68 L297.15,332.58 L297.6,334.46 L298.05,334.41 L298.5,333.77 L298.95,332.45 L299.4,332.73 L299.85,334.59 L300.3,332.65 L300.75,334.69 L301.2,333.69" fill="none" stroke="#000" stroke-width="1.25" stroke-linejoin="round" />
<path d="M35.7,239.7 L35.98,240.87 L36.26,244.27 L36.54,239.92 L36.82,232.02 L37.1,237.85 L37.38,236.17 L37.66,239.37 L37.94,234.21 L38.22,240.66 L38.5,240.82 L38.78,246.33 L39.06,244.54 L39.34,249.13 L39.62,246.62 L39.9,257.7 L40.18,240.42 L40.46,247.35 L40.74,242.21 L41.02,240.7 L41.3,242.81 L41.58,243.52 L41.86,246.5 L42.14,245.25 L42.42,249.83 L42.7,239.21 L42.98,245.8 L43.26,244.22 L43.54,251.2 L43.82,243.38 L44.1,248.56 L44.38,249.27 L44.66,243.69 L44.94,249.8 L45.22,246.57 L45.5,249.15 L45.78,251.11 L46.06,247.1 L46.34,248.27 L46.62,249.84 L46.9,252.54 L47.18,253.18 L47.46,249.23 L47.74,250.6 L48.02,249.08 L48.3,249.53 L48.58,251.58 L48.86,252.81 L49.14,259.78 L49.42,253.44 L49.7,254.8 L49.98,255.94 L50.26,250.71 L50.54,254.14 L50.82,257.85 L51.1,260.72 L51.38,254.73 L51.66,261.57 L51.94,254.59 L52.22,255.37 L52.5,258.7 L52.78,260.63 L53.06,266.83 L53.34,263.63 L53.62,259.44 L53.9,257.38 L54.18,251.52 L54.46,257.82 L54.74,253.33 L55.02,254.23 L55.3,269.34 L55.58,267.11 L55.86,264.27 L56.14,270.81 L56.42,259.71 L56.7,263.32 L56.98,260.34 L57.26,265.61 L57.54,259.92 L57.82,256.72 L58.1,257.82 L58.38,259.55 L58.66,262.76 L58.94,268.93 L59.22,259.86 L59.5,267.08 L59.78,260.15 L60.06,259.38 L60.34,256.23 L60.62,259.19 L60.9,263.53 L61.18,263.44 L61.46,267.43 L61.74,264.45 L62.02,267.9 L62.3,263.51 L62.58,262.86 L62.86,265.84 L63.14,264.13 L63.42,262.45 L63.7,262.23 L63.98,262.18 L64.26,266.31 L64.54,267.91 L64.82,268.52 L65.1,268.95 L65.38,263.98 L65.66,268.08 L65.94,260.67 L66.22,269.45 L66.5,265.99 L66.78,265.88 L67.06,265.51 L67.34,267.45 L67.62,276.94 L67.9,294.45 L68.18,291.41 L68.46,278.3 L68.74,274.74 L69.02,265.62" fill="none" stroke="#000" stroke-width="1.1" stroke-linejoin="round" /><path d="M68.74,274.74 L69.02,265.62 L69.47,270.56 L69.92,267.45 L70.37,270.38 L70.82,273.93 L71.27,274.19 L71.72,272.38 L72.17,274.45 L72.62,273.65 L73.07,276.06 L73.52,270.21 L73.97,269.45 L74.42,272.2 L74.87,272.13 L75.32,275.92 L75.77,273.95 L76.22,268.78 L76.67,269.81 L77.12,266.56 L77.57,272.23 L78.02,275.82 L78.47,270.91 L78.92,276.83 L79.37,276.99 L79.82,274.86 L80.27,279.69 L80.72,286 L81.17,282.1 L81.62,278.89 L82.07,277.55 L82.52,278.13 L82.97,278.18 L83.42,275.88 L83.87,281.9 L84.32,278.2 L84.77,279.97 L85.22,280.09 L85.67,279.35 L86.12,280.67 L86.57,280.19 L87.02,278.96 L87.47,279.87 L87.92,281.65 L88.37,282.5 L88.82,280.97 L89.27,284.57 L89.72,283.5 L90.17,278.3 L90.62,281.09 L91.07,285.01 L91.52,286.21 L91.97,286.19 L92.42,282.78 L92.87,285.49 L93.32,287.91 L93.77,287.24 L94.22,285.09 L94.67,285.81 L95.12,286.67 L95.57,286.3 L96.02,288.38 L96.47,285.53 L96.92,285.46 L97.37,287.04 L97.82,285.57 L98.27,281.58 L98.72,288.62 L99.17,288.3 L99.62,287.54 L100.07,288.68 L100.52,291.28 L100.97,288.58 L101.42,289.15 L101.87,289.66 L102.32,291.07 L102.77,290.04 L103.22,289.78 L103.67,291.66 L104.12,292.16 L104.57,291.95 L105.02,291.76 L105.47,291.35 L105.92,293.18 L106.37,294.54 L106.82,291.86 L107.27,294.99 L107.72,292.77 L108.17,295.7 L108.62,298.1 L109.07,297.31 L109.52,299.13 L109.97,301.17 L110.42,299.14 L110.87,296.42 L111.32,298.12 L111.77,297.31 L112.22,300.39 L112.67,298.06 L113.12,297.79 L113.57,298.16 L114.02,297.98 L114.47,299.5 L114.92,299.75 L115.37,298.45 L115.82,298.19 L116.27,297.51 L116.72,298.23 L117.17,299.47 L117.62,299.82 L118.07,300.25 L118.52,300.61 L118.97,301.34 L119.42,300.1 L119.87,301.75 L120.32,306.43 L120.77,305.94 L121.22,302.65 L121.67,303.25 L122.12,301.69 L122.57,302.2 L123.02,301.29 L123.47,303.94 L123.92,303.52 L124.37,304.71 L124.82,304.62 L125.27,305.33 L125.72,306.67 L126.17,306.79 L126.62,305.16 L127.07,305.64 L127.52,306.18 L127.97,307.2 L128.42,307.64 L128.87,308.73 L129.32,307.09 L129.77,309.49 L130.22,309.73 L130.67,308.94 L131.12,307.64 L131.57,310.27 L132.02,311 L132.47,308.57 L132.92,308.75 L133.37,308.51 L133.82,308.15 L134.27,308.69 L134.72,308.73 L135.17,311.88 L135.62,309.94 L136.07,310.76 L136.52,308.76 L136.97,308.69 L137.42,310.02 L137.87,310.1 L138.32,311.19 L138.77,310.23 L139.22,311.91 L139.67,312.83 L140.12,311.37 L140.57,314.66 L141.02,315.61 L141.47,316.09 L141.92,313.86 L142.37,314.1 L142.82,312.22 L143.27,313.38 L143.72,314.54 L144.17,312.9 L144.62,314.34 L145.07,313.84 L145.52,314.08 L145.97,315.49 L146.42,316.55 L146.87,319.13 L147.32,317.83 L147.77,317.57 L148.22,317.02 L148.67,316.91 L149.12,317.45 L149.57,315.67 L150.02,319.63 L150.47,318.44 L150.92,320.01 L151.37,320.25 L151.82,321.48 L152.27,320.75 L152.72,319.24 L153.17,319.8 L153.62,319.45 L154.07,318.64 L154.52,319.93 L154.97,319.77 L155.42,318.93 L155.87,321.23 L156.32,319.34 L156.77,321.33 L157.22,320.5 L157.67,320.93 L158.12,321.47 L158.57,322.87 L159.02,322.27 L159.47,324.86 L159.92,325.08 L160.37,322.56 L160.82,324.13 L161.27,325.73 L161.72,324.02 L162.17,324.36 L162.62,322.99 L163.07,324.32 L163.52,324.12 L163.97,323.29 L164.42,325.74 L164.87,326.31 L165.32,327.76 L165.77,326.94 L166.22,328.06 L166.67,327.13 L167.12,326.19 L167.57,326.95 L168.02,325.5 L168.47,331.46 L168.92,337.41 L169.37,331.75 L169.82,328.95 L170.27,329.1 L170.72,328.74 L171.17,329.68 L171.62,328.46 L172.07,329.44 L172.52,328.96 L172.97,327.67 L173.42,329.01 L173.87,328.55 L174.32,331.59 L174.77,330.79 L175.22,330.37 L175.67,329.58 L176.12,327.84 L176.57,330.57 L177.02,329.89 L177.47,331.21 L177.92,334.56 L178.37,333.93 L178.82,331.45 L179.27,330.4 L179.72,329.75 L180.17,333.27 L180.62,331.18 L181.07,331.45 L181.52,332.99 L181.97,329.83 L182.42,333.03 L182.87,333.88 L183.32,334.16 L183.77,334.71 L184.22,332.2 L184.67,335.24 L185.12,337.87 L185.57,333.16 L186.02,332.5 L186.47,333.79 L186.92,334.2 L187.37,334.04 L187.82,336.4 L188.27,338.1 L188.72,335.01 L189.17,334.57 L189.62,333.63 L190.07,334.02 L190.52,336.18 L190.97,338.71 L191.42,337.1 L191.87,339.23 L192.32,335.77 L192.77,337.5 L193.22,340.3 L193.67,338.15 L194.12,338.43 L194.57,340.44 L195.02,339.06 L195.47,336.06 L195.92,336.95 L196.37,339.78 L196.82,339.19 L197.27,340.36 L197.72,338.94 L198.17,339.82 L198.62,339.95 L199.07,341.9 L199.52,340.92 L199.97,342.09 L200.42,344.85 L200.87,340.98 L201.32,341.77 L201.77,341 L202.22,344.61 L202.67,342.7 L203.12,342.85 L203.57,342.3 L204.02,343.38 L204.47,342.11 L204.92,341.72 L205.37,341.45 L205.82,342.7 L206.27,341.95 L206.72,342.1 L207.17,342.87 L207.62,343.81 L208.07,342.81 L208.52,343.96 L208.97,345.48 L209.42,342.86 L209.87,345.64 L210.32,348.02 L210.77,347.95 L211.22,347.2 L211.67,344.1 L212.12,345.59 L212.57,345.06 L213.02,345.77 L213.47,344.94 L213.92,346.15 L214.37,347.16 L214.82,346.9 L215.27,348.06 L215.72,350.31 L216.17,347.93 L216.62,347.85 L217.07,348.74 L217.52,347.36 L217.97,350.09 L218.42,351.38 L218.87,351.52 L219.32,348.99 L219.77,348.11 L220.22,348.43 L220.67,350.28 L221.12,349.74 L221.57,351.93 L222.02,351.16 L222.47,351.57 L222.92,351.18 L223.37,350.27 L223.82,360.57 L224.27,370.12 L224.72,355.25 L225.17,351.16 L225.62,350.16 L226.07,350.75 L226.52,351.31 L226.97,351.38 L227.42,354.25 L227.87,356.9 L228.32,354.04 L228.77,354.12 L229.22,353.78 L229.67,353.78 L230.12,352.62 L230.57,355.13 L231.02,354.89 L231.47,352.3 L231.92,353.55 L232.37,354.23 L232.82,355.77 L233.27,356.03 L233.72,355.03 L234.17,355.36 L234.62,356.01 L235.07,354.55 L235.52,356.39 L235.97,355.66 L236.42,357.26 L236.87,358.51 L237.32,356.28 L237.77,357.65 L238.22,364.83 L238.67,360.89 L239.12,356.09 L239.57,357.13 L240.02,356.06 L240.47,356.08 L240.92,356.88 L241.37,357.29 L241.82,357.32 L242.27,358.73 L242.72,358.49 L243.17,358.33 L243.62,357.64 L244.07,356.68 L244.52,357.75 L244.97,356.85 L245.42,357.49 L245.87,356.5 L246.32,357.85 L246.77,357.83 L247.22,358.41 L247.67,359.88 L248.12,360.52 L248.57,359.62 L249.02,358.86 L249.47,359.57 L249.92,359.12 L250.37,358.64 L250.82,359.1 L251.27,359.21 L251.72,359.31 L252.17,361.45 L252.62,360.16 L253.07,360.72 L253.52,361.93 L253.97,361.15 L254.42,361.78 L254.87,363.2 L255.32,363.4 L255.77,362.79 L256.22,362.95 L256.67,362.38 L257.12,362.34 L257.57,364.11 L258.02,362.69 L258.47,363.86 L258.92,362.95 L259.37,363.85 L259.82,364.38 L260.27,365.68 L260.72,362.35 L261.17,366.4 L261.62,365.82 L262.07,368.56 L262.52,367.15 L262.97,365.01 L263.42,365.94 L263.87,366.67 L264.32,367.08 L264.77,368.59 L265.22,369.07 L265.67,367.56 L266.12,365.84 L266.57,369.96 L267.02,370.89 L267.47,366.81 L267.92,366.64 L268.37,368.74 L268.82,368.76 L269.27,368.16 L269.72,367.92 L270.17,371.02 L270.62,370.71 L271.07,369.3 L271.52,368.46 L271.97,368.35 L272.42,370.05 L272.87,369.54 L273.32,370.01 L273.77,370.47 L274.22,371.18 L274.67,369.54 L275.12,369.58 L275.57,367.84 L276.02,370.42 L276.47,370.49 L276.92,370.09 L277.37,368.25 L277.82,369.58 L278.27,370.09 L278.72,371.97 L279.17,371.58 L279.62,374.98 L280.07,377.01 L280.52,376.32 L280.97,371.2 L281.42,370.35 L281.87,371.08 L282.32,373.59 L282.77,372.42 L283.22,371.9 L283.67,371.06 L284.12,371.99 L284.57,371.32 L285.02,374.2 L285.47,372.85 L285.92,376.66 L286.37,375.45 L286.82,373.71 L287.27,376.73 L287.72,375.15 L288.17,372.63 L288.62,374.37 L289.07,373.74 L289.52,374.57 L289.97,373.72 L290.42,374.61 L290.87,375.26 L291.32,375.1 L291.77,374.97 L292.22,375.47 L292.67,374.36 L293.12,375.39 L293.57,373.27 L294.02,377.22 L294.47,374.71 L294.92,374.61 L295.37,375.17 L295.82,373.64 L296.27,376.5 L296.72,373.67 L297.17,374.85 L297.62,374.39 L298.07,375.91 L298.52,375.7 L298.97,373.53 L299.42,375.53 L299.87,374.79 L300.32,376.06 L300.77,375.82 L301.22,377.09" fill="none" stroke="#000" stroke-width="1.25" stroke-linejoin="round" />
<path d="M333.3,28.14 L333.75,29.83 L334.2,30.19 L334.65,29.26 L335.1,34.54 L335.55,36.84 L336,38.38 L336.45,39.65 L336.9,37.87 L337.35,35.27 L337.8,34.22 L338.25,36.04 L338.7,35.94 L339.15,42.05 L339.6,57.54 L340.05,50.87 L340.5,40.04 L340.95,38.99 L341.4,38.27 L341.85,39.22 L342.3,40.09 L342.75,41.68 L343.2,46.61 L343.65,45.88 L344.1,38.43 L344.55,38.65 L345,41.02 L345.45,41.53 L345.9,44.01 L346.35,53.96 L346.8,64.19 L347.25,47.24 L347.7,46 L348.15,49.85 L348.6,49.02 L349.05,47.56 L349.5,45.73 L349.95,44.91 L350.4,48.57 L350.85,48.44 L351.3,47.07 L351.75,48.89 L352.2,51.04 L352.65,51.8 L353.1,53.52 L353.55,52.08 L354,51.06 L354.45,50.73 L354.9,52.61 L355.35,53.49 L355.8,53.84 L356.25,53.5 L356.7,55.14 L357.15,53.51 L357.6,54.56 L358.05,51.49 L358.5,54.63 L358.95,54.01 L359.4,52.93 L359.85,54.53 L360.3,55.29 L360.75,55.76 L361.2,55.25 L361.65,57.06 L362.1,59.76 L362.55,58.3 L363,59.21 L363.45,61.06 L363.9,59 L364.35,63.36 L364.8,73.86 L365.25,83.26 L365.7,68.63 L366.15,66.12 L366.6,66.45 L367.05,67.82 L367.5,63.69 L367.95,62.08 L368.4,65.13 L368.85,65.65 L369.3,65.43 L369.75,64.17 L370.2,64.23 L370.65,66.14 L371.1,67.93 L371.55,66.13 L372,62.87 L372.45,66.31 L372.9,70.75 L373.35,69.05 L373.8,68.18 L374.25,66.82 L374.7,66.53 L375.15,66 L375.6,67.3 L376.05,64.65 L376.5,68.06 L376.95,69.42 L377.4,68.83 L377.85,71.43 L378.3,71.06 L378.75,73.48 L379.2,73.2 L379.65,74.77 L380.1,76.3 L380.55,74.64 L381,73.14 L381.45,72.83 L381.9,76.81 L382.35,75.23 L382.8,76.22 L383.25,79.34 L383.7,78.68 L384.15,79.7 L384.6,78.59 L385.05,78.91 L385.5,81.78 L385.95,90.5 L386.4,84.35 L386.85,82.85 L387.3,83.48 L387.75,79.73 L388.2,79.17 L388.65,82.19 L389.1,84.33 L389.55,81.16 L390,82.54 L390.45,86.42 L390.9,84.42 L391.35,84.07 L391.8,84.74 L392.25,85.88 L392.7,85.07 L393.15,85.85 L393.6,85.79 L394.05,86.07 L394.5,89.29 L394.95,90.17 L395.4,89.04 L395.85,86.9 L396.3,86.8 L396.75,89.34 L397.2,87.94 L397.65,88.87 L398.1,90.12 L398.55,89.19 L399,89.14 L399.45,90.58 L399.9,91.84 L400.35,90.4 L400.8,91.11 L401.25,90.87 L401.7,91.51 L402.15,92.86 L402.6,93.79 L403.05,96.08 L403.5,94.39 L403.95,95.79 L404.4,93.59 L404.85,95.66 L405.3,98.59 L405.75,101.47 L406.2,104.39 L406.65,98.25 L407.1,96.6 L407.55,96.86 L408,98.09 L408.45,97.38 L408.9,97.21 L409.35,98 L409.8,98.32 L410.25,98.71 L410.7,98.94 L411.15,99.38 L411.6,99.49 L412.05,102.42 L412.5,100.49 L412.95,100.37 L413.4,102.94 L413.85,101.98 L414.3,100.74 L414.75,101.85 L415.2,102.59 L415.65,103.47 L416.1,101.23 L416.55,100.19 L417,100.4 L417.45,101.27 L417.9,100.84 L418.35,103.43 L418.8,105.46 L419.25,106.43 L419.7,105.84 L420.15,105.33 L420.6,107.16 L421.05,105.24 L421.5,108 L421.95,106.15 L422.4,106.58 L422.85,108.4 L423.3,112.51 L423.75,111.1 L424.2,108.2 L424.65,110.74 L425.1,109.32 L425.55,107.77 L426,106.32 L426.45,108.43 L426.9,107.11 L427.35,107.77 L427.8,108.75 L428.25,109.34 L428.7,112.99 L429.15,117.23 L429.6,112.09 L430.05,109.9 L430.5,110.96 L430.95,111.6 L431.4,112.28 L431.85,114.3 L432.3,115.97 L432.75,114.97 L433.2,113.4 L433.65,113.53 L434.1,113.46 L434.55,113.68 L435,113.43 L435.45,114.73 L435.9,114.08 L436.35,114.61 L436.8,116.85 L437.25,119.02 L437.7,116.92 L438.15,114.75 L438.6,116.44 L439.05,116.72 L439.5,116.95 L439.95,120.04 L440.4,117.76 L440.85,116.57 L441.3,117.51 L441.75,117.82 L442.2,118.32 L442.65,117.8 L443.1,120.17 L443.55,119.1 L444,119.89 L444.45,123.24 L444.9,123.51 L445.35,126.4 L445.8,126.45 L446.25,123.84 L446.7,122.86 L447.15,123.08 L447.6,124.12 L448.05,123.41 L448.5,123.9 L448.95,123.22 L449.4,123.56 L449.85,125.09 L450.3,124.33 L450.75,124.27 L451.2,124.12 L451.65,128.71 L452.1,132.66 L452.55,130.55 L453,127.85 L453.45,126.13 L453.9,126.46 L454.35,125.48 L454.8,125.89 L455.25,126.89 L455.7,125.24 L456.15,128.87 L456.6,127.76 L457.05,128.99 L457.5,129.27 L457.95,128.41 L458.4,128.1 L458.85,131.29 L459.3,132.82 L459.75,130.97 L460.2,129.53 L460.65,129.8 L461.1,129.16 L461.55,130.37 L462,130.6 L462.45,130.22 L462.9,130.11 L463.35,132.15 L463.8,133.38 L464.25,134.06 L464.7,134.17 L465.15,134.09 L465.6,134.47 L466.05,136.75 L466.5,136.72 L466.95,135.63 L467.4,134.69 L467.85,133.51 L468.3,133.58 L468.75,133.99 L469.2,134.04 L469.65,134.2 L470.1,134.69 L470.55,134.72 L471,135.54 L471.45,135.85 L471.9,137.47 L472.35,136.85 L472.8,136.81 L473.25,139.68 L473.7,136.96 L474.15,135.62 L474.6,135.8 L475.05,135.99 L475.5,135.59 L475.95,137.17 L476.4,137.72 L476.85,138.41 L477.3,137.47 L477.75,138.89 L478.2,140.86 L478.65,140.31 L479.1,138.65 L479.55,137.57 L480,137.79 L480.45,138.3 L480.9,138.43 L481.35,139.46 L481.8,140.19 L482.25,140.38 L482.7,140.81 L483.15,140.39 L483.6,140.93 L484.05,140.61 L484.5,142.28 L484.95,144.65 L485.4,141.48 L485.85,142.07 L486.3,142.13 L486.75,142.63 L487.2,141.51 L487.65,142.16 L488.1,142.91 L488.55,144.16 L489,145 L489.45,144.13 L489.9,143.81 L490.35,145.12 L490.8,146.43 L491.25,146.44 L491.7,147.3 L492.15,148.13 L492.6,146.87 L493.05,145.26 L493.5,145.79 L493.95,144.86 L494.4,145.68 L494.85,145.29 L495.3,145.9 L495.75,146.26 L496.2,145.88 L496.65,147.35 L497.1,148.93 L497.55,148.44 L498,147.56 L498.45,146.69 L498.9,147.64 L499.35,147.9 L499.8,148.79 L500.25,147.2 L500.7,147.91 L501.15,149.07 L501.6,147.91 L502.05,148.22 L502.5,149.17 L502.95,149.63 L503.4,149.17 L503.85,151.04 L504.3,152.57 L504.75,151.72 L505.2,149.99 L505.65,150.43 L506.1,149.73 L506.55,150.39 L507,150.37 L507.45,150.92 L507.9,150.66 L508.35,150.6 L508.8,151.84 L509.25,151.52 L509.7,150.87 L510.15,150.9 L510.6,150.89 L511.05,150.29 L511.5,151.55 L511.95,151.87 L512.4,151.79 L512.85,153.88 L513.3,154.6 L513.75,153.73 L514.2,152.96 L514.65,154.12 L515.1,152.73 L515.55,154.03 L516,154.55 L516.45,154.61 L516.9,155.46 L517.35,154.59 L517.8,154.24 L518.25,155.68 L518.7,155.23 L519.15,156.42 L519.6,155.55 L520.05,156.35 L520.5,157.23 L520.95,157.93 L521.4,164.28 L521.85,171.47 L522.3,161.21 L522.75,156.91 L523.2,156.67 L523.65,157.29 L524.1,158.67 L524.55,160.43 L525,159.51 L525.45,157.93 L525.9,158.4 L526.35,158.66 L526.8,159.57 L527.25,159.82 L527.7,162.09 L528.15,160.58 L528.6,160.07 L529.05,160.98 L529.5,163.28 L529.95,163.34 L530.4,163.8 L530.85,162.49 L531.3,161.73 L531.75,161.6 L532.2,162.6 L532.65,163.04 L533.1,163.44 L533.55,164.35 L534,162.89 L534.45,162.31 L534.9,162.43 L535.35,163.18 L535.8,162.5 L536.25,162.06 L536.7,162.34 L537.15,162.38 L537.6,162.23 L538.05,162.86 L538.5,163.09 L538.95,163.96 L539.4,163.22 L539.85,164.08 L540.3,164.44 L540.75,163.97 L541.2,164.85 L541.65,164.67 L542.1,164.47 L542.55,165.02 L543,165.09 L543.45,165.23 L543.9,165.57 L544.35,165.77 L544.8,166.13 L545.25,165.78 L545.7,166.58 L546.15,165.98 L546.6,167.2 L547.05,168.06 L547.5,168.67 L547.95,168.01 L548.4,167.67 L548.85,167.15 L549.3,168.04 L549.75,169.41 L550.2,168.93 L550.65,168.13 L551.1,169.21 L551.55,168.32 L552,168.98 L552.45,169.29 L552.9,169.81 L553.35,171.15 L553.8,169.77 L554.25,169.88 L554.7,171.68 L555.15,173.39 L555.6,172 L556.05,170.85 L556.5,171.44 L556.95,170.59 L557.4,173 L557.85,174.86 L558.3,172.93 L558.75,173.55 L559.2,172.04 L559.65,172.52 L560.1,172.59 L560.55,173.78 L561,172.99 L561.45,173.92 L561.9,175.31 L562.35,177.16 L562.8,174.57 L563.25,173.77 L563.7,174.83 L564.15,174.39 L564.6,175.66 L565.05,174.96 L565.5,174.71 L565.95,175.77 L566.4,177.63 L566.85,175.94 L567.3,176.82 L567.75,175.83 L568.2,174.15 L568.65,175.7 L569.1,176.24 L569.55,174.91 L570,175.53 L570.45,177.5 L570.9,177.79 L571.35,176.21 L571.8,175.61 L572.25,176.98 L572.7,179.1 L573.15,179.43 L573.6,177.58 L574.05,176.23 L574.5,177.22 L574.95,177.84 L575.4,177.66 L575.85,177.72 L576.3,177.43 L576.75,178.09 L577.2,177.45 L577.65,178.92 L578.1,179.18 L578.55,179.19 L579,178.56 L579.45,177.89 L579.9,178.44 L580.35,179.16 L580.8,178.39 L581.25,179.43 L581.7,180.33 L582.15,179.34 L582.6,179.99 L583.05,180.34 L583.5,180.16 L583.95,180.06 L584.4,180.08 L584.85,180.22 L585.3,179.66 L585.75,180.77 L586.2,180.86 L586.65,180.96 L587.1,180.48 L587.55,181.06 L588,181.83 L588.45,185.13 L588.9,184.39 L589.35,181.38 L589.8,181.84 L590.25,183.75 L590.7,184.89 L591.15,183.67 L591.6,182.6 L592.05,181.79 L592.5,182.85 L592.95,184.21 L593.4,183.8 L593.85,183.08 L594.3,183.22 L594.75,183.06 L595.2,185.21 L595.65,186.23 L596.1,184.62 L596.55,184.33 L597,183.54 L597.45,182.92 L597.9,183.88 L598.35,185.51 L598.8,185.46" fill="none" stroke="#000" stroke-width="1.25" stroke-linejoin="round" />
<path d="M333.2,137.19 L333.48,133.65 L333.76,139.59 L334.04,144.65 L334.32,148.4 L334.6,140.14 L334.88,134.32 L335.16,134.39 L335.44,142.13 L335.72,149.25 L336,142.94 L336.28,136.11 L336.56,136.98 L336.84,154.21 L337.12,145.07 L337.4,131.69 L337.68,140.11 L337.96,134.73 L338.24,138.42 L338.52,143.67 L338.8,148.74 L339.08,160.84 L339.36,153.13 L339.64,146.91 L339.92,149.41 L340.2,154.72 L340.48,143.94 L340.76,153.24 L341.04,143.26 L341.32,144.86 L341.6,136.03 L341.88,144.49 L342.16,145.21 L342.44,144.39 L342.72,139.99 L343,143.73 L343.28,140.62 L343.56,138.31 L343.84,147.69 L344.12,141.4 L344.4,159.97 L344.68,161.28 L344.96,153.71 L345.24,180.97 L345.52,171.36 L345.8,169.21 L346.08,163.44 L346.36,145.01 L346.64,149.59 L346.92,148.14 L347.2,154.79 L347.48,140.36 L347.76,153.17 L348.04,140.95 L348.32,144.55 L348.6,142.05 L348.88,159.46 L349.16,154.5 L349.44,166.38 L349.72,155.09 L350,155.5 L350.28,153.29 L350.56,144.04 L350.84,147.88 L351.12,155.71 L351.4,145.26 L351.68,149.07 L351.96,146.85 L352.24,151.34 L352.52,145.91 L352.8,148.42 L353.08,151.75 L353.36,151.93 L353.64,144.75 L353.92,156.32 L354.2,143.25 L354.48,146.02 L354.76,148.91 L355.04,161.87 L355.32,152.33 L355.6,146.5 L355.88,146.67 L356.16,159.45 L356.44,155.69 L356.72,150.68 L357,156.46 L357.28,142.65 L357.56,148.86 L357.84,150.36 L358.12,148.33 L358.4,152.16 L358.68,161.8 L358.96,149.82 L359.24,146.29 L359.52,146.1 L359.8,156.39 L360.08,153.27 L360.36,153.21 L360.64,146.37 L360.92,145.82 L361.2,145.48 L361.48,147.36 L361.76,154.47 L362.04,151.59 L362.32,154.01 L362.6,166.6 L362.88,156.76 L363.16,140.87 L363.44,163.58 L363.72,156.42 L364,153.18 L364.28,182.55 L364.56,193.78 L364.84,179.69 L365.12,161.68 L365.4,150.28 L365.68,156.18 L365.96,164.01 L366.24,157.86 L366.52,160.29" fill="none" stroke="#000" stroke-width="1.0" stroke-linejoin="round" /><path d="M366.24,157.86 L366.52,160.29 L366.8,167.11 L367.08,157.22 L367.36,166.14 L367.64,165.75 L367.92,160.44 L368.2,155.34 L368.48,158.95 L368.76,160.72 L369.04,157.73 L369.32,160.04 L369.6,163.72 L369.88,163.55 L370.16,166.77 L370.44,165.14 L370.72,162.92 L371,166.83 L371.28,161.57 L371.56,159.8 L371.84,160.86 L372.12,155.33 L372.4,157.99 L372.68,164.88 L372.96,165.89 L373.24,168.39 L373.52,160.94 L373.8,154.46 L374.08,166.74 L374.36,163.84 L374.64,156.05 L374.92,165.87 L375.2,163.03 L375.48,156.26 L375.76,160.28 L376.04,159.65 L376.32,168.26 L376.6,159.23 L376.88,160.93 L377.16,160.27 L377.44,159.19 L377.72,158.16 L378,165.44 L378.28,171.62 L378.56,170.25 L378.84,164.78 L379.12,165.04 L379.4,169.42 L379.68,164.64 L379.96,164.46 L380.24,161.39 L380.52,173.73 L380.8,169.73 L381.08,162.64 L381.36,169.73 L381.64,170.4 L381.92,156.11 L382.2,162.77 L382.48,164.87 L382.76,171.41 L383.04,173.78 L383.32,179.03 L383.6,188.33 L383.88,196.89 L384.16,187.93 L384.44,167.63 L384.72,162.41 L385,176.25 L385.28,164.2 L385.56,166.77 L385.84,172.33 L386.12,176.85 L386.4,179.56 L386.68,177.19 L386.96,171.23 L387.24,173.71 L387.52,172.67 L387.8,179.34 L388.08,173.18 L388.36,169.69 L388.64,171.68 L388.92,179.22 L389.2,169.84 L389.48,164.29 L389.76,171.64 L390.04,175.7 L390.32,179.89 L390.6,171.47 L390.88,177.02 L391.16,177.57 L391.44,170.63 L391.72,173.34 L392,179.22 L392.28,178.55 L392.56,176.38 L392.84,177.02 L393.12,181.31 L393.4,176.84 L393.68,175.93 L393.96,173.61 L394.24,179.51 L394.52,180.91 L394.8,190.39 L395.08,177.95 L395.36,181.65 L395.64,182.25 L395.92,178.21 L396.2,185 L396.48,174.12 L396.76,181.24 L397.04,181.38 L397.32,167.54 L397.6,172.15 L397.88,180.05 L398.16,176.91 L398.44,175.91 L398.72,179.74 L399,178.8 L399.28,184.27 L399.56,184.12 L399.84,180.72 L400.12,178.74 L400.57,180.29 L401.02,184.45 L401.47,181.99 L401.92,182.08 L402.37,181.66 L402.82,178.63 L403.27,179.52 L403.72,182.74 L404.17,182.92 L404.62,181.02 L405.07,180.27 L405.52,189.38 L405.97,200.36 L406.42,190.32 L406.87,182.71 L407.32,183.97 L407.77,185.03 L408.22,187.94 L408.67,186.46 L409.12,187.24 L409.57,186.06 L410.02,184.59 L410.47,186.16 L410.92,189.66 L411.37,189.36 L411.82,189.39 L412.27,189.8 L412.72,187.77 L413.17,186.05 L413.62,190.45 L414.07,187.66 L414.52,189.18 L414.97,185.82 L415.42,193.05 L415.87,190.28 L416.32,188.43 L416.77,188.16 L417.22,188.84 L417.67,187.84 L418.12,188.39 L418.57,186.81 L419.02,192.28 L419.47,191.01 L419.92,194.15 L420.37,195.07 L420.82,187.43 L421.27,193.95 L421.72,193.23 L422.17,192.72 L422.62,194.29 L423.07,192.78 L423.52,204.4 L423.97,202.18 L424.42,193.3 L424.87,193.24 L425.32,196.5 L425.77,197.04 L426.22,193.39 L426.67,191.69 L427.12,196.69 L427.57,193.03 L428.02,198.06 L428.47,196.91 L428.92,197.85 L429.37,198.89 L429.82,208.97 L430.27,206.07 L430.72,197.92 L431.17,200.42 L431.62,199.96 L432.07,195.5 L432.52,193.91 L432.97,193.78 L433.42,192.88 L433.87,193.93 L434.32,193.75 L434.77,192.87 L435.22,195.46 L435.67,192.17 L436.12,195.8 L436.57,203.85 L437.02,202.56 L437.47,199.31 L437.92,198.2 L438.37,199.79 L438.82,197.79 L439.27,197.67 L439.72,196.21 L440.17,198.43 L440.62,198.29 L441.07,199.07 L441.52,200.64 L441.97,203.63 L442.42,202.89 L442.87,204.59 L443.32,200.98 L443.77,202.08 L444.22,205.72 L444.67,210.07 L445.12,216.63 L445.57,207.56 L446.02,205.34 L446.47,204.8 L446.92,202.06 L447.37,204.99 L447.82,206.99 L448.27,204.13 L448.72,204.24 L449.17,203.23 L449.62,202.91 L450.07,205.99 L450.52,209.29 L450.97,213.85 L451.42,213.43 L451.87,209.4 L452.32,207.65 L452.77,207.94 L453.22,208.09 L453.67,207.42 L454.12,208.82 L454.57,209.54 L455.02,209.24 L455.47,209.01 L455.92,211.03 L456.37,212.94 L456.82,212.79 L457.27,211.82 L457.72,207.14 L458.17,206.88 L458.62,210.93 L459.07,210.9 L459.52,212.01 L459.97,212.12 L460.42,212.22 L460.87,211.36 L461.32,209.27 L461.77,212.99 L462.22,211.36 L462.67,212.65 L463.12,212.23 L463.57,212.33 L464.02,213.36 L464.47,211.39 L464.92,212.14 L465.37,211.81 L465.82,213.26 L466.27,216.03 L466.72,214.22 L467.17,222.85 L467.62,226.86 L468.07,218.02 L468.52,215.91 L468.97,213.84 L469.42,216.49 L469.87,217.9 L470.32,213.93 L470.77,215.26 L471.22,214.94 L471.67,216.53 L472.12,214.68 L472.57,218.58 L473.02,215.9 L473.47,214.24 L473.92,219.25 L474.37,218.74 L474.82,218.46 L475.27,218.67 L475.72,217.47 L476.17,218.82 L476.62,222.65 L477.07,224.42 L477.52,227.35 L477.97,227.9 L478.42,224.14 L478.87,220.18 L479.32,221.52 L479.77,222.76 L480.22,219.08 L480.67,218.2 L481.12,220.07 L481.57,219.49 L482.02,220.01 L482.47,218.38 L482.92,219.71 L483.37,220.06 L483.82,221.24 L484.27,220.25 L484.72,224.18 L485.17,222.78 L485.62,222.69 L486.07,221.68 L486.52,223.92 L486.97,226.86 L487.42,223.9 L487.87,225.8 L488.32,226.33 L488.77,225.53 L489.22,227.46 L489.67,227.34 L490.12,230.49 L490.57,230.82 L491.02,228.76 L491.47,230.56 L491.92,230.28 L492.37,229.33 L492.82,225.88 L493.27,226.6 L493.72,228.06 L494.17,228.5 L494.62,228.06 L495.07,229.85 L495.52,229.4 L495.97,229.52 L496.42,227.32 L496.87,228.62 L497.32,228.13 L497.77,228 L498.22,229.87 L498.67,233.51 L499.12,229.25 L499.57,228.77 L500.02,231.4 L500.47,231.32 L500.92,232.47 L501.37,230.38 L501.82,230.03 L502.27,230.38 L502.72,231.88 L503.17,231.83 L503.62,234.09 L504.07,235.28 L504.52,232.06 L504.97,231.17 L505.42,233.39 L505.87,232.89 L506.32,232.61 L506.77,233.06 L507.22,232.28 L507.67,233.28 L508.12,232.05 L508.57,233.47 L509.02,232.51 L509.47,233.13 L509.92,234.54 L510.37,235.47 L510.82,238.69 L511.27,238.52 L511.72,236.95 L512.17,236.85 L512.62,233.94 L513.07,234.02 L513.52,237.13 L513.97,238.52 L514.42,238.57 L514.87,237.34 L515.32,238.6 L515.77,237.74 L516.22,241.69 L516.67,241.38 L517.12,238.59 L517.57,239.81 L518.02,242.75 L518.47,241.71 L518.92,237.68 L519.37,240.68 L519.82,240.96 L520.27,241.39 L520.72,243.01 L521.17,247.45 L521.62,253.3 L522.07,246.59 L522.52,241.71 L522.97,241.05 L523.42,242.24 L523.87,243.44 L524.32,240.24 L524.77,240.14 L525.22,241.29 L525.67,246.94 L526.12,245.02 L526.57,243.72 L527.02,242.45 L527.47,242.44 L527.92,243.13 L528.37,246.99 L528.82,245.86 L529.27,242.71 L529.72,243.88 L530.17,245 L530.62,246.94 L531.07,245.69 L531.52,245.19 L531.97,245.36 L532.42,245.41 L532.87,245.85 L533.32,243.71 L533.77,244.56 L534.22,246.84 L534.67,246.92 L535.12,246.63 L535.57,244.95 L536.02,245.29 L536.47,248.6 L536.92,247.02 L537.37,246.3 L537.82,247.29 L538.27,245.39 L538.72,246.99 L539.17,247.65 L539.62,248.44 L540.07,247.3 L540.52,247.69 L540.97,246.86 L541.42,249.76 L541.87,249.73 L542.32,247.33 L542.77,247.43 L543.22,246.83 L543.67,246.3 L544.12,244.83 L544.57,247.25 L545.02,248.79 L545.47,246.89 L545.92,247.6 L546.37,245.26 L546.82,251.36 L547.27,252.44 L547.72,250.58 L548.17,249.18 L548.62,248.68 L549.07,249.29 L549.52,248.97 L549.97,249.12 L550.42,249.42 L550.87,249.79 L551.32,251.23 L551.77,248.48 L552.22,250.46 L552.67,249.78 L553.12,249.89 L553.57,250.15 L554.02,254.81 L554.47,252 L554.92,251.93 L555.37,254.81 L555.82,255.7 L556.27,255.43 L556.72,254.73 L557.17,255.66 L557.62,256.25 L558.07,254.33 L558.52,256.44 L558.97,255.56 L559.42,256.25 L559.87,256.95 L560.32,259.59 L560.77,257.02 L561.22,258.6 L561.67,258.5 L562.12,256.6 L562.57,258.68 L563.02,255.92 L563.47,257.09 L563.92,256.53 L564.37,256.2 L564.82,255.89 L565.27,257.02 L565.72,257.97 L566.17,257.88 L566.62,264.11 L567.07,273.79 L567.52,265.57 L567.97,264.5 L568.42,262.93 L568.87,263.38 L569.32,266.65 L569.77,264.09 L570.22,262.85 L570.67,262.94 L571.12,260.8 L571.57,263.78 L572.02,262.45 L572.47,263.48 L572.92,263.32 L573.37,264.01 L573.82,265.19 L574.27,264.43 L574.72,264.57 L575.17,263.03 L575.62,263.53 L576.07,263.95 L576.52,262.42 L576.97,267.91 L577.42,264.05 L577.87,263.31 L578.32,268.35 L578.77,270.18 L579.22,266.44 L579.67,268.63 L580.12,284.98 L580.57,279.91 L581.02,268.15 L581.47,268.61 L581.92,272.12 L582.37,272.36 L582.82,274.64 L583.27,273.11 L583.72,271.29 L584.17,269.66 L584.62,268.3 L585.07,269.99 L585.52,268.19 L585.97,268.68 L586.42,270.51 L586.87,270.92 L587.32,271.9 L587.77,270.91 L588.22,271.16 L588.67,271.41 L589.12,269.52 L589.57,271.93 L590.02,273.58 L590.47,272.55 L590.92,271.4 L591.37,271.73 L591.82,270.55 L592.27,272.12 L592.72,274.71 L593.17,273.81 L593.62,279.12 L594.07,285.68 L594.52,277.21 L594.97,273.92 L595.42,274.25 L595.87,274.76 L596.32,275.33 L596.77,275.53 L597.22,273.68 L597.67,273.97 L598.12,275.66 L598.57,273.03" fill="none" stroke="#000" stroke-width="1.25" stroke-linejoin="round" />
<path d="M333.2,205.53 L333.48,209.42 L333.76,185.02 L334.04,198.29 L334.32,204.93 L334.6,207.25 L334.88,204.1 L335.16,208.81 L335.44,202.96 L335.72,202.73 L336,199.26 L336.28,191.13 L336.56,194.38 L336.84,201.34 L337.12,199.29 L337.4,212.52 L337.68,216.2 L337.96,215.52 L338.24,202.22 L338.52,208.81 L338.8,196.28 L339.08,196.13 L339.36,199.54 L339.64,200.68 L339.92,188.24 L340.2,188.12 L340.48,199.54 L340.76,196.57 L341.04,212.55 L341.32,210.54 L341.6,210.48 L341.88,210.16 L342.16,215.13 L342.44,206.04 L342.72,211.98 L343,201.4 L343.28,203 L343.56,200.8 L343.84,206.87 L344.12,205.36 L344.4,202.49 L344.68,227.44 L344.96,231.6 L345.24,243.39 L345.52,231.38 L345.8,224.45 L346.08,209.77 L346.36,214.38 L346.64,211.01 L346.92,203.18 L347.2,216.14 L347.48,215.62 L347.76,210.32 L348.04,213.26 L348.32,207.73 L348.6,209.77 L348.88,217.76 L349.16,223.11 L349.44,215.53 L349.72,222.68 L350,227.53 L350.28,220.94 L350.56,216.88 L350.84,219.55 L351.12,203.8 L351.4,214.12 L351.68,198.12 L351.96,212.05 L352.24,212.31 L352.52,209.23 L352.8,209.02 L353.08,217.35 L353.36,213.84 L353.64,214.59 L353.92,208.97 L354.2,215.72 L354.48,207.71 L354.76,212.94 L355.04,213.66 L355.32,226.07 L355.6,217.44 L355.88,226.27 L356.16,234.99 L356.44,220.53 L356.72,213.43 L357,217.07 L357.28,212.71 L357.56,218.06 L357.84,209.62 L358.12,213.89 L358.4,219.02 L358.68,221.38 L358.96,209.51 L359.24,221.61 L359.52,211.39 L359.8,208.84 L360.08,211.18 L360.36,215.03 L360.64,213.08 L360.92,214.59 L361.2,215.12 L361.48,215.7 L361.76,214.34 L362.04,224.13 L362.32,205.24 L362.6,210.38 L362.88,215.77 L363.16,209.73 L363.44,201.64 L363.72,213.33 L364,222.39 L364.28,231.48 L364.56,256.73 L364.84,249.69 L365.12,236.19 L365.4,219.97 L365.68,222.81 L365.96,218.39 L366.24,224.92 L366.52,221.41" fill="none" stroke="#000" stroke-width="1.0" stroke-linejoin="round" /><path d="M366.24,224.92 L366.52,221.41 L366.8,222.86 L367.08,219.71 L367.36,224.5 L367.64,223.71 L367.92,223.57 L368.2,215.25 L368.48,216.47 L368.76,224.98 L369.04,220.32 L369.32,220.8 L369.6,220.18 L369.88,220.89 L370.16,223.51 L370.44,221.84 L370.72,222.28 L371,218.36 L371.28,225.63 L371.56,219.36 L371.84,222.56 L372.12,220.96 L372.4,224.58 L372.68,222.87 L372.96,225.75 L373.24,227.85 L373.52,224.76 L373.8,222.4 L374.08,221.53 L374.36,220.79 L374.64,219.17 L374.92,230.54 L375.2,221.46 L375.48,225.57 L375.76,235.18 L376.04,224.59 L376.32,227.97 L376.6,229.29 L376.88,226.31 L377.16,221.82 L377.44,220.28 L377.72,227.61 L378,231.01 L378.28,223.88 L378.56,231.56 L378.84,230.71 L379.12,234.42 L379.4,229.81 L379.68,224.89 L379.96,226.64 L380.24,228.02 L380.52,231.95 L380.8,238.52 L381.08,234.06 L381.36,235.2 L381.64,236.75 L381.92,231.96 L382.2,231.27 L382.48,229.57 L382.76,229.04 L383.04,226.66 L383.32,230.57 L383.6,233.69 L383.88,231.65 L384.16,236.5 L384.44,234.48 L384.72,231.12 L385,237.9 L385.28,230.46 L385.56,241.8 L385.84,252.15 L386.12,246.77 L386.4,239.96 L386.68,237.04 L386.96,237.87 L387.24,233.95 L387.52,233.67 L387.8,237.54 L388.08,239.18 L388.36,235.75 L388.64,238.37 L388.92,236.97 L389.2,231.04 L389.48,236.36 L389.76,232.15 L390.04,237.63 L390.32,233.42 L390.6,238.06 L390.88,236.05 L391.16,242.21 L391.44,239.66 L391.72,239.51 L392,241.28 L392.28,242.93 L392.56,244.5 L392.84,234.58 L393.12,238.98 L393.4,235.2 L393.68,236.47 L393.96,236.03 L394.24,245.89 L394.52,241.25 L394.8,235.99 L395.08,243.08 L395.36,240.12 L395.64,235.28 L395.92,237.31 L396.2,236.81 L396.48,233.91 L396.76,237.72 L397.04,242.91 L397.32,240.82 L397.6,240.24 L397.88,236.91 L398.16,240.51 L398.44,245.14 L398.72,247.43 L399,239.8 L399.28,235.65 L399.56,241.52 L399.84,237.89 L400.12,238.08 L400.57,238.39 L401.02,239.64 L401.47,244.03 L401.92,242.39 L402.37,241.68 L402.82,249.03 L403.27,250.61 L403.72,243.46 L404.17,243.11 L404.62,244.38 L405.07,240.03 L405.52,240.93 L405.97,248.14 L406.42,258.56 L406.87,252.47 L407.32,243.63 L407.77,242.77 L408.22,243.84 L408.67,243.79 L409.12,246.06 L409.57,244.79 L410.02,243.3 L410.47,245.04 L410.92,246.83 L411.37,245.09 L411.82,245.08 L412.27,245.17 L412.72,249.46 L413.17,245.68 L413.62,247.22 L414.07,247.74 L414.52,247.68 L414.97,246.05 L415.42,247.46 L415.87,245.66 L416.32,247.56 L416.77,248.83 L417.22,246.69 L417.67,249.33 L418.12,250.77 L418.57,250.74 L419.02,252.52 L419.47,250.48 L419.92,252.69 L420.37,249.69 L420.82,252.81 L421.27,251.08 L421.72,252.56 L422.17,251.71 L422.62,249.44 L423.07,257.19 L423.52,258.57 L423.97,255.17 L424.42,255.1 L424.87,254.79 L425.32,252.9 L425.77,253.34 L426.22,255.17 L426.67,252.74 L427.12,249.67 L427.57,251.1 L428.02,254.01 L428.47,250.14 L428.92,255.56 L429.37,263.77 L429.82,261.43 L430.27,254.61 L430.72,249.92 L431.17,252.88 L431.62,251.16 L432.07,250.46 L432.52,252 L432.97,252.5 L433.42,252.44 L433.87,253.95 L434.32,254.04 L434.77,255.26 L435.22,255.88 L435.67,257.37 L436.12,253.81 L436.57,253.39 L437.02,252.99 L437.47,255.68 L437.92,254.42 L438.37,255.57 L438.82,253.24 L439.27,255.14 L439.72,255.98 L440.17,259.66 L440.62,258.27 L441.07,255.21 L441.52,259.85 L441.97,260.87 L442.42,261.26 L442.87,255.84 L443.32,260.14 L443.77,261.93 L444.22,263.21 L444.67,263.81 L445.12,266.1 L445.57,263.7 L446.02,260.13 L446.47,261.1 L446.92,261.3 L447.37,260.55 L447.82,262.41 L448.27,259.34 L448.72,260.33 L449.17,261.22 L449.62,261.9 L450.07,261.35 L450.52,266.49 L450.97,270.12 L451.42,267.8 L451.87,266.05 L452.32,262.97 L452.77,263.01 L453.22,262.06 L453.67,266.04 L454.12,265.24 L454.57,262 L455.02,265.71 L455.47,265.91 L455.92,265.09 L456.37,265.97 L456.82,267.98 L457.27,265.16 L457.72,265.46 L458.17,266.37 L458.62,265.11 L459.07,266.11 L459.52,264.23 L459.97,264.7 L460.42,265.94 L460.87,262.83 L461.32,262.34 L461.77,265.13 L462.22,266 L462.67,269 L463.12,266.61 L463.57,265.92 L464.02,266.51 L464.47,266.82 L464.92,266.72 L465.37,275.4 L465.82,280.04 L466.27,274.29 L466.72,270.77 L467.17,267.91 L467.62,271.93 L468.07,274.31 L468.52,268.92 L468.97,269.55 L469.42,270.31 L469.87,270.05 L470.32,270.07 L470.77,273.08 L471.22,270.66 L471.67,270.85 L472.12,274.49 L472.57,271.71 L473.02,269.65 L473.47,273.58 L473.92,275.98 L474.37,273.02 L474.82,273.51 L475.27,272.97 L475.72,273.25 L476.17,277.33 L476.62,277.1 L477.07,278.77 L477.52,280.03 L477.97,276.91 L478.42,273 L478.87,271.44 L479.32,275.5 L479.77,274.01 L480.22,275.28 L480.67,274.59 L481.12,273.35 L481.57,272.89 L482.02,273.09 L482.47,272.91 L482.92,271.16 L483.37,273.38 L483.82,272.93 L484.27,273.3 L484.72,274.2 L485.17,275.24 L485.62,278.73 L486.07,276.47 L486.52,276.2 L486.97,276.68 L487.42,277.94 L487.87,282.02 L488.32,281.25 L488.77,279.85 L489.22,278.41 L489.67,278.3 L490.12,277.94 L490.57,278.76 L491.02,276.97 L491.47,279.49 L491.92,280.91 L492.37,281.9 L492.82,281.24 L493.27,280.76 L493.72,279.15 L494.17,279.47 L494.62,277.65 L495.07,278.01 L495.52,279.65 L495.97,283.15 L496.42,282.22 L496.87,279.53 L497.32,280.01 L497.77,282.15 L498.22,280.47 L498.67,280.15 L499.12,280.96 L499.57,280.81 L500.02,279.5 L500.47,281.98 L500.92,281.78 L501.37,281.85 L501.82,280.33 L502.27,281.61 L502.72,283.77 L503.17,284.64 L503.62,288.41 L504.07,289 L504.52,288.26 L504.97,284.09 L505.42,285.06 L505.87,284.63 L506.32,284.4 L506.77,288.35 L507.22,284.93 L507.67,284.43 L508.12,285.44 L508.57,284.01 L509.02,283.63 L509.47,285.64 L509.92,285.88 L510.37,287.25 L510.82,291.23 L511.27,294.57 L511.72,288.76 L512.17,289.92 L512.62,287.99 L513.07,287.75 L513.52,285.36 L513.97,287.22 L514.42,289.25 L514.87,289.73 L515.32,288.34 L515.77,289.66 L516.22,290.41 L516.67,288.8 L517.12,287.75 L517.57,288.52 L518.02,289.3 L518.47,290.06 L518.92,292.57 L519.37,291.97 L519.82,290.58 L520.27,289.96 L520.72,298.29 L521.17,303.11 L521.62,294.73 L522.07,292.26 L522.52,295.25 L522.97,295.67 L523.42,292.68 L523.87,291.57 L524.32,291.83 L524.77,292.1 L525.22,291.37 L525.67,291.51 L526.12,292.59 L526.57,295.09 L527.02,292.87 L527.47,293.17 L527.92,294.1 L528.37,294.88 L528.82,296.18 L529.27,294.54 L529.72,295.41 L530.17,295.12 L530.62,298.44 L531.07,297.73 L531.52,295.29 L531.97,294.07 L532.42,294.15 L532.87,295.81 L533.32,293.29 L533.77,297.22 L534.22,292.65 L534.67,295.14 L535.12,297.59 L535.57,296.26 L536.02,294.72 L536.47,295.63 L536.92,295.73 L537.37,295.45 L537.82,296.56 L538.27,297.06 L538.72,297.85 L539.17,296.64 L539.62,297.14 L540.07,296 L540.52,296.58 L540.97,297.36 L541.42,296.06 L541.87,297.01 L542.32,295.35 L542.77,296.22 L543.22,296.93 L543.67,297.97 L544.12,300.86 L544.57,302.89 L545.02,298.86 L545.47,296.58 L545.92,297.55 L546.37,295.59 L546.82,297.07 L547.27,298.35 L547.72,297.26 L548.17,297.58 L548.62,298.7 L549.07,301.45 L549.52,298.91 L549.97,297.45 L550.42,294.27 L550.87,297.25 L551.32,298.55 L551.77,297.94 L552.22,297.6 L552.67,299.59 L553.12,298.18 L553.57,298.37 L554.02,299.02 L554.47,298.29 L554.92,299.73 L555.37,300.5 L555.82,299.85 L556.27,301.32 L556.72,301.84 L557.17,302.08 L557.62,304.21 L558.07,304.02 L558.52,303.89 L558.97,304.15 L559.42,305.83 L559.87,307.35 L560.32,305.63 L560.77,306.8 L561.22,306.02 L561.67,304.87 L562.12,304.47 L562.57,306.07 L563.02,304.43 L563.47,305.97 L563.92,303.5 L564.37,305.62 L564.82,305.06 L565.27,305.81 L565.72,307.29 L566.17,305.58 L566.62,308.07 L567.07,318.93 L567.52,327.31 L567.97,313.17 L568.42,309.51 L568.87,309.78 L569.32,309.61 L569.77,311.11 L570.22,310.66 L570.67,311.01 L571.12,310.69 L571.57,309.14 L572.02,309.03 L572.47,310.2 L572.92,309.83 L573.37,311.16 L573.82,307.49 L574.27,310.43 L574.72,312.35 L575.17,312.5 L575.62,312.41 L576.07,311.04 L576.52,311.64 L576.97,313.42 L577.42,310.72 L577.87,309.78 L578.32,313.01 L578.77,313.8 L579.22,315.74 L579.67,316.71 L580.12,328.94 L580.57,332.44 L581.02,319.65 L581.47,316.12 L581.92,314.79 L582.37,317.3 L582.82,319.92 L583.27,317.52 L583.72,318.73 L584.17,318.5 L584.62,321.36 L585.07,320.49 L585.52,317.25 L585.97,317.62 L586.42,320.53 L586.87,321.29 L587.32,321.93 L587.77,323.56 L588.22,319.64 L588.67,319.84 L589.12,318.32 L589.57,317.67 L590.02,318.7 L590.47,319.09 L590.92,318.88 L591.37,318.75 L591.82,322.49 L592.27,321.94 L592.72,318.59 L593.17,321.18 L593.62,320.63 L594.07,328.87 L594.52,339.34 L594.97,327.62 L595.42,320.54 L595.87,319.19 L596.32,321.03 L596.77,322.09 L597.22,321.3 L597.67,323.28 L598.12,322.96 L598.57,323.27" fill="none" stroke="#000" stroke-width="1.25" stroke-linejoin="round" />
<path d="M333.2,301.37 L333.48,302.27 L333.76,297.94 L334.04,290.9 L334.32,292.82 L334.6,290.71 L334.88,296.11 L335.16,302.94 L335.44,297.25 L335.72,300.36 L336,308.15 L336.28,304.08 L336.56,299.39 L336.84,288.67 L337.12,292.91 L337.4,296.15 L337.68,285.96 L337.96,289.91 L338.24,284.69 L338.52,287.14 L338.8,285.07 L339.08,292.85 L339.36,286.13 L339.64,293.62 L339.92,293.41 L340.2,289.48 L340.48,277.17 L340.76,287.52 L341.04,289.55 L341.32,291.8 L341.6,285.19 L341.88,292.84 L342.16,292 L342.44,294.67 L342.72,308.59 L343,301.55 L343.28,303.75 L343.56,307.12 L343.84,297.78 L344.12,298.91 L344.4,301.84 L344.68,302.16 L344.96,297.31 L345.24,310.38 L345.52,319.85 L345.8,297.46 L346.08,307.02 L346.36,301.94 L346.64,297.97 L346.92,312.13 L347.2,304.6 L347.48,294.29 L347.76,303.35 L348.04,307.58 L348.32,300.43 L348.6,304.97 L348.88,299.82 L349.16,302.74 L349.44,305.36 L349.72,294.85 L350,298.25 L350.28,294.02 L350.56,298.3 L350.84,292.1 L351.12,296.1 L351.4,297.7 L351.68,304.2 L351.96,306.28 L352.24,295.6 L352.52,297.27 L352.8,305.34 L353.08,290.55 L353.36,299.09 L353.64,299.91 L353.92,312.17 L354.2,314.71 L354.48,310.12 L354.76,305.56 L355.04,305.64 L355.32,314.99 L355.6,302.81 L355.88,301.67 L356.16,303.21 L356.44,298.56 L356.72,297.43 L357,293.1 L357.28,300.07 L357.56,298.13 L357.84,306.98 L358.12,305 L358.4,302.36 L358.68,305.59 L358.96,301.11 L359.24,312.61 L359.52,311.57 L359.8,311.77 L360.08,298.6 L360.36,305.72 L360.64,295.6 L360.92,292.01 L361.2,301.05 L361.48,298.94 L361.76,306.03 L362.04,317.62 L362.32,304.81 L362.6,310.38 L362.88,316.71 L363.16,317.25 L363.44,308.94 L363.72,306.14 L364,314.53 L364.28,319.95 L364.56,314.99 L364.84,314.58 L365.12,308 L365.4,298.05 L365.68,305.23 L365.96,299.8 L366.24,306.75 L366.52,304.76 L366.8,306.25 L367.08,305.36 L367.36,304.75 L367.64,297.47 L367.92,299.81 L368.2,305.2 L368.48,297.86 L368.76,308.35 L369.04,299.81 L369.32,306.88 L369.6,302.53 L369.88,308.01 L370.16,304.97 L370.44,298.89 L370.72,306.18 L371,306.59 L371.28,302.82 L371.56,301.75 L371.84,301.83 L372.12,299.38 L372.4,306.64 L372.68,303.39 L372.96,308.24 L373.24,306.99 L373.52,307.26 L373.8,303.01 L374.08,308.88 L374.36,304.19 L374.64,307.16 L374.92,304.46 L375.2,302.29 L375.48,304.08 L375.76,302.81 L376.04,304.93 L376.32,303.61 L376.6,304.85 L376.88,302.14 L377.16,304.79 L377.44,311.76 L377.72,302.47 L378,300.87 L378.28,305.36 L378.56,308.53 L378.84,300.12 L379.12,305.44 L379.4,303.6 L379.68,299.57 L379.96,307.14 L380.24,305.58 L380.52,305.46 L380.8,304.96 L381.08,309.49 L381.36,305.46 L381.64,305.67 L381.92,302.88 L382.2,301.7 L382.48,311.16 L382.76,309.77 L383.04,315.28 L383.32,313.68 L383.6,309.98 L383.88,307.66 L384.16,309.72 L384.44,307.53 L384.72,311.35 L385,315.84 L385.28,321.13 L385.56,318.87 L385.84,316.65 L386.12,314.22 L386.4,311.26 L386.68,315.8 L386.96,312.63 L387.24,308.25 L387.52,310.89 L387.8,312.11 L388.08,312.84 L388.36,312.71 L388.64,308.52 L388.92,313.95 L389.2,306.42 L389.48,313.89 L389.76,314.71 L390.04,316.57 L390.32,318.71 L390.6,314.67 L390.88,305.03 L391.16,304.02 L391.44,312.53 L391.72,307.69 L392,311.83 L392.28,315.48 L392.56,306.11 L392.84,303.58 L393.12,310.1 L393.4,311.4 L393.68,312.03 L393.96,315.28 L394.24,312.66 L394.52,308.57 L394.8,309.21 L395.08,304.88 L395.36,302.96 L395.64,309.59 L395.92,308.78 L396.2,310.6 L396.48,307.56 L396.76,308.64 L397.04,307.37 L397.32,307.54 L397.6,311.44 L397.88,307.86 L398.16,311.26 L398.44,311.22 L398.72,316.19 L399,304.88 L399.28,312.53 L399.56,309.51 L399.84,310.09 L400.12,305.6 L400.4,310.39 L400.68,316.03 L400.96,314.89 L401.24,314.91 L401.52,312.27 L401.8,316.35 L402.08,312.86 L402.36,306.17 L402.64,309.98 L402.92,307.01 L403.2,304.02 L403.48,313.3 L403.76,319.6 L404.04,316.07 L404.32,312.86 L404.6,310.91 L404.88,314.93 L405.16,310.56 L405.44,310.52 L405.72,310.28 L406,311.8 L406.28,313.42 L406.56,312.28 L406.84,311.19 L407.12,306.6 L407.4,310.88 L407.68,308.69 L407.96,314.53 L408.24,308.17 L408.52,312.03 L408.8,313.09 L409.08,308.32 L409.36,318.5 L409.64,319.12 L409.92,317.68 L410.2,324.42 L410.48,324.73 L410.76,315.32 L411.04,323.62 L411.32,320.38 L411.6,318.51 L411.88,312.63 L412.16,316.39 L412.44,317.62 L412.72,323.23 L413,319.33 L413.28,315.92 L413.56,318.38 L413.84,312.6 L414.12,312.68 L414.4,308.2 L414.68,320.56 L414.96,321.13 L415.24,322.56 L415.52,323.63 L415.8,321.94 L416.08,319.78 L416.36,315.23 L416.64,314.55 L416.92,315.99 L417.2,321.12 L417.48,317.68 L417.76,315.78 L418.04,313.91 L418.32,313.14 L418.6,318.73 L418.88,316.31 L419.16,316.62 L419.44,318.97 L419.72,319.49 L420,322.79 L420.28,320.86 L420.68,317.58 L421.08,318.02 L421.48,317.6 L421.88,318.77 L422.28,317.18 L422.68,317.96 L423.08,315.99 L423.48,318.6 L423.88,315.68 L424.28,318.16 L424.68,320.33 L425.08,316.77 L425.48,317.07 L425.88,318.85 L426.28,319.2 L426.68,318.31 L427.08,322.37 L427.48,323.62 L427.88,318.41 L428.28,318.15 L428.68,317.18 L429.08,320.34 L429.48,318.84 L429.88,318.3 L430.28,321.47 L430.68,318.1 L431.08,322.37 L431.48,322.46 L431.88,320.07 L432.28,321.35 L432.68,323.44 L433.08,318.91 L433.48,318.43 L433.88,316.74 L434.28,318.42 L434.68,320.76 L435.08,320.16 L435.48,316.89 L435.88,317.27 L436.28,317.95 L436.68,320.35 L437.08,319.88 L437.48,320.23 L437.88,320.34 L438.28,319.78 L438.68,320.59 L439.08,321.57 L439.48,321.25 L439.88,322.1 L440.28,324.49 L440.68,322.36 L441.08,321.12 L441.48,318.44 L441.88,322.32 L442.28,318.11 L442.68,318.85 L443.08,323.14 L443.48,322.67 L443.88,321.03 L444.28,318.84 L444.68,321.42 L445.08,321.51 L445.48,324.76 L445.88,326.39 L446.28,321.52 L446.68,320.15 L447.08,320.31 L447.48,322.25 L447.88,322.45 L448.28,321.28 L448.68,323.46 L449.08,321.1 L449.48,325.91 L449.88,326.79 L450.28,326.8 L450.68,324.04 L451.08,326.02 L451.48,324.96 L451.88,324.49 L452.28,324.8 L452.68,322.4 L453.08,321.31 L453.48,325.92 L453.88,325.26 L454.28,326.18 L454.68,326.66 L455.08,321.93 L455.48,323.71 L455.88,325.72 L456.28,326.38 L456.68,325.74 L457.08,327.64 L457.48,325.34 L457.88,322.43 L458.28,322.9 L458.68,326.27 L459.08,325.7 L459.48,321.89 L459.88,328.2 L460.28,327.62 L460.68,329.6 L461.08,326.1 L461.48,325.53 L461.88,325.17 L462.28,333.7 L462.68,326.95 L463.08,328.74 L463.48,325.13 L463.88,326.89 L464.28,323.05 L464.68,326.05 L465.08,328.7 L465.48,324.71 L465.88,328.7 L466.28,328.26 L466.68,326.3 L467.08,326.61 L467.48,326.36 L467.88,328.24 L468.28,328.17 L468.68,327.25 L469.08,328.12 L469.48,327 L469.88,326.65 L470.28,329.03 L470.68,331.03 L471.08,327.79 L471.48,331.91 L471.88,328.6 L472.28,326.31 L472.68,329.27 L473.08,326.87 L473.48,330.01 L473.88,326.45 L474.28,330.02 L474.68,330.98 L475.08,329.71 L475.48,331.98 L475.88,330.25 L476.28,331.05 L476.68,329.86 L477.08,327.85 L477.48,330.2 L477.88,332.41 L478.28,336.24 L478.68,331.92 L479.08,331.56 L479.48,327.23 L479.88,330.69 L480.28,328.03 L480.68,327.29 L481.08,330.48 L481.48,334 L481.88,330.92 L482.28,331.13 L482.68,331.46 L483.08,330.46 L483.48,332.6 L483.88,330.31 L484.28,330.97 L484.68,333.93 L485.08,332.04 L485.48,334.82 L485.88,333.87 L486.28,334.36 L486.68,331.43 L487.08,336.48 L487.48,331.95 L487.88,333.13 L488.28,333.05 L488.68,333.3 L489.08,333.68 L489.48,338.63 L489.88,335.7 L490.28,335.86 L490.68,336.32 L491.08,335.51 L491.48,337.97 L491.88,337.76 L492.28,332.98 L492.68,330.7 L493.08,332.45 L493.48,336.66 L493.88,329.32 L494.28,335.84 L494.68,334.48 L495.08,337.59 L495.48,332.63 L495.88,334.25 L496.28,332.56 L496.68,332.87 L497.08,337.56 L497.48,336.84 L497.88,334.43 L498.28,333.62 L498.68,332.28 L499.08,334.79 L499.48,336.31 L499.88,337.11 L500.28,337.33 L500.68,334.63 L501.08,337.09 L501.48,337.29 L501.88,340.75 L502.28,342.35 L502.68,338.25 L503.08,336.21 L503.48,337.51 L503.88,336.5 L504.28,336.02 L504.68,337.25 L505.08,335.39 L505.48,338.75 L505.88,337.84 L506.28,339.01 L506.68,338.6 L507.08,337.61 L507.48,336.54 L507.88,337.5 L508.28,336.37 L508.68,337.9 L509.08,337.3 L509.48,335.69 L509.88,338.84 L510.28,337.25 L510.68,338.5 L511.08,339.4 L511.48,335.99 L511.88,339.94 L512.28,339.82 L512.68,339.05 L513.08,339.03 L513.48,341.35 L513.88,341.61 L514.28,341.45 L514.68,339.46 L515.08,340.6 L515.48,338.24 L515.88,341.45 L516.28,341.63 L516.68,341.14 L517.08,341.07 L517.48,342.67 L517.88,339.08 L518.28,343.05 L518.68,343.15 L519.08,343.51 L519.48,343.54 L519.88,341.57 L520.28,342.32 L520.68,344.8 L521.08,344.36 L521.48,344.39 L521.88,341.46 L522.28,345.19 L522.68,346.31 L523.08,346.07 L523.48,344.63 L523.88,341.76 L524.28,346.55 L524.68,345.09 L525.08,341.47 L525.48,346.31 L525.88,342.67 L526.28,342.6 L526.68,343.49 L527.08,346.95 L527.48,344.6 L527.88,345.6 L528.28,348.79 L528.68,348.47 L529.08,345.23 L529.48,345.68 L529.88,344.66 L530.28,345.46 L530.68,347.8 L531.08,347.66 L531.48,346.55 L531.88,347.08 L532.28,343.12 L532.68,344.76 L533.08,346.51 L533.48,347.38 L533.88,348.31 L534.28,347.45 L534.68,346.47 L535.08,347.63 L535.48,344.89 L535.88,346.18 L536.28,351.91 L536.68,348.78 L537.08,347.78 L537.48,344.21 L537.88,346.33 L538.28,345.74 L538.68,345.41 L539.08,343.52 L539.48,347.27 L539.88,350.17 L540.28,350.95 L540.68,350.29 L541.08,351.52 L541.48,351.41 L541.88,344.28 L542.28,348.7 L542.68,349.36 L543.08,350.21 L543.48,352.52 L543.88,352.01 L544.28,350.29 L544.68,351.68 L545.08,352.43 L545.48,350.2 L545.88,351.11 L546.28,353.77 L546.68,355.11 L547.08,351.39 L547.48,351.61 L547.88,351.81 L548.28,354.19 L548.68,354.31 L549.08,357.36 L549.48,352.55 L549.88,354.19 L550.28,354.52 L550.68,356.09 L551.08,357.7 L551.48,351.92 L551.88,352.28 L552.28,354.34 L552.68,352.91 L553.08,351.93 L553.48,355.5 L553.88,353.65 L554.28,354.19 L554.68,353.78 L555.08,357.11 L555.48,354.99 L555.88,359.03 L556.28,358.39 L556.68,358.78 L557.08,358.05 L557.48,356.28 L557.88,360.81 L558.28,360.2 L558.68,355.74 L559.08,356.37 L559.48,355.77 L559.88,358.37 L560.28,355.92 L560.68,356.57 L561.08,359.4 L561.48,360.68 L561.88,361.25 L562.28,359.81 L562.68,362 L563.08,363.34 L563.48,359.92 L563.88,358.81 L564.28,362.56 L564.68,363.93 L565.08,360.05 L565.48,357.36 L565.88,357.66 L566.28,361.31 L566.68,358.41 L567.08,359.53 L567.48,359.83 L567.88,360.89 L568.28,359.39 L568.68,362.57 L569.08,361.78 L569.48,363.3 L569.88,362.63 L570.28,365.12 L570.68,363.13 L571.08,363.41 L571.48,363.44 L571.88,362.6 L572.28,364.8 L572.68,360.16 L573.08,361.21 L573.48,362.1 L573.88,366.79 L574.28,364.4 L574.68,363.45 L575.08,364.46 L575.48,367.71 L575.88,364.9 L576.28,363.62 L576.68,365.31 L577.08,364.17 L577.48,364.71 L577.88,362.84 L578.28,367.65 L578.68,367.89 L579.08,367.32 L579.48,369.54 L579.88,369.25 L580.28,375.42 L580.68,369.72 L581.08,366.3 L581.48,365.21 L581.88,363.79 L582.28,362.48 L582.68,365.51 L583.08,362.37 L583.48,363.08 L583.88,362.27 L584.28,363.29 L584.68,361.25 L585.08,368.64 L585.48,366.52 L585.88,369.06 L586.28,371.88 L586.68,367.45 L587.08,364.17 L587.48,366.84 L587.88,366.99 L588.28,368.04 L588.68,368.41 L589.08,363.95 L589.48,368.03 L589.88,364.95 L590.28,368.48 L590.68,368.53 L591.08,368.65 L591.48,369.65 L591.88,368.94 L592.28,369.77 L592.68,368.54 L593.08,374.08 L593.48,380.85 L593.88,383.14 L594.28,379.21 L594.68,375.59 L595.08,372.48 L595.48,376.8 L595.88,375.32 L596.28,374.37 L596.68,372.52 L597.08,372.4 L597.48,372.05 L597.88,372.34 L598.28,370.24 L598.68,371.57" fill="none" stroke="#000" stroke-width="1.0" stroke-linejoin="round" />
<path d="M48.6,18.4 L48.6,13.13 L51.3,15.85 L54,18.54 L56.7,21.2 L59.41,23.82 L62.11,26.41 L64.81,28.96 L67.51,31.48 L70.21,33.97 L72.91,36.43 L75.61,38.85 L78.31,41.24 L81.02,43.6 L83.72,45.93 L86.42,48.22 L89.12,50.48 L91.82,52.71 L94.52,54.91 L97.22,57.07 L99.92,59.21 L102.63,61.31 L105.33,63.39 L108.03,65.43 L110.73,67.44 L113.43,69.43 L116.13,71.38 L118.83,73.31 L121.53,75.21 L124.24,77.08 L126.94,78.92 L129.64,80.73 L132.34,82.52 L135.04,84.28 L137.74,86.01 L140.44,87.72 L143.14,89.4 L145.85,91.06 L148.55,92.69 L151.25,94.3 L153.95,95.88 L156.65,97.45 L159.35,98.99 L162.05,100.5 L164.75,102 L167.46,103.48 L170.16,104.93 L172.86,106.37 L175.56,107.78 L178.26,109.18 L180.96,110.56 L183.66,111.93 L186.36,113.27 L189.07,114.6 L191.77,115.92 L194.47,117.22 L197.17,118.51 L199.87,119.78 L202.57,121.04 L205.27,122.29 L207.97,123.53 L210.68,124.76 L213.38,125.98 L216.08,127.19 L218.78,128.39 L221.48,129.58 L224.18,130.77 L226.88,131.96 L229.58,133.14 L232.29,134.31 L234.99,135.48 L237.69,136.65 L240.39,137.82 L243.09,138.99 L245.79,140.16 L248.49,141.34 L251.19,142.51 L253.9,143.69 L256.6,144.87 L259.3,146.06 L262,147.25 L262,152.4" fill="none" stroke="#111" stroke-width="0.9" stroke-linejoin="round" />
<path d="M49.6,90 L49.6,95.72 L52.46,98.43 L55.31,101.07 L58.17,103.64 L61.02,106.15 L63.88,108.6 L66.73,111 L69.59,113.33 L72.45,115.62 L75.3,117.85 L78.16,120.03 L81.01,122.16 L83.87,124.25 L86.72,126.29 L89.58,128.3 L92.44,130.26 L95.29,132.18 L98.15,134.07 L101,135.92 L103.86,137.74 L106.71,139.53 L109.57,141.29 L112.43,143.02 L115.28,144.72 L118.14,146.4 L120.99,148.05 L123.85,149.68 L126.7,151.29 L129.56,152.87 L132.42,154.44 L135.27,155.99 L138.13,157.52 L140.98,159.03 L143.84,160.53 L146.69,162.01 L149.55,163.48 L152.41,164.93 L155.26,166.37 L158.12,167.8 L160.97,169.22 L163.83,170.63 L166.68,172.02 L169.54,173.41 L172.39,174.79 L175.25,176.15 L178.11,177.51 L180.96,178.86 L183.82,180.2 L186.67,181.53 L189.53,182.85 L192.38,184.17 L195.24,185.47 L198.1,186.77 L200.95,188.06 L203.81,189.34 L206.66,190.61 L209.52,191.87 L212.37,193.12 L215.23,194.36 L218.09,195.58 L220.94,196.8 L223.8,198.01 L226.65,199.2 L229.51,200.38 L232.36,201.55 L235.22,202.7 L238.08,203.83 L240.93,204.95 L243.79,206.06 L246.64,207.14 L249.5,208.21 L252.35,209.25 L255.21,210.27 L258.07,211.28 L260.92,212.25 L263.78,213.2 L266.63,214.13 L269.49,215.03 L272.34,215.9 L275.2,216.73 L275.2,210.6" fill="none" stroke="#111" stroke-width="0.9" stroke-linejoin="round" />
<path d="M88.8,50.21 V55.61 M109.6,66.6 V72 M132.2,82.42 V87.82 M155.6,96.84 V102.24 M180.4,110.28 V115.68 M206.4,122.81 V128.21 M234,135.06 V140.46 M67.7,111.79 V106.79 M86,125.78 V120.78 M105.4,138.71 V133.71 M126.4,151.12 V146.12 M148.6,162.99 V157.99 M171.3,174.26 V169.26 M195.3,185.5 V180.5 M220.6,196.66 V191.66 M247.4,207.42 V202.42" stroke="#111" stroke-width="0.9" fill="none"/>
<rect x="47.85" y="33.1" width="1.9" height="5.4" fill="#111"/>
<rect x="66.85" y="51.3" width="1.9" height="7" fill="#111"/>
<rect x="87.75" y="69.3" width="1.9" height="6" fill="#111"/>
<rect x="108.75" y="88.5" width="1.9" height="6" fill="#111"/>
<rect x="131.35" y="104.1" width="1.9" height="6" fill="#111"/>
<rect x="154.65" y="118.1" width="1.9" height="6" fill="#111"/>
<rect x="179.55" y="133.7" width="1.9" height="6" fill="#111"/>
<rect x="206.35" y="145.7" width="1.9" height="5.9" fill="#111"/>
<rect x="233.05" y="157.2" width="1.9" height="6.1" fill="#111"/>
<rect x="261.55" y="166.7" width="1.9" height="6.2" fill="#111"/>
<rect x="47.85" y="68.5" width="1.9" height="6" fill="#111"/>
<rect x="67.25" y="89.7" width="1.9" height="7.2" fill="#111"/>
<rect x="84.85" y="100.5" width="1.9" height="6" fill="#111"/>
<rect x="104.45" y="112" width="1.9" height="5.9" fill="#111"/>
<rect x="125.55" y="125.7" width="1.9" height="5.9" fill="#111"/>
<rect x="147.65" y="138.1" width="1.9" height="6" fill="#111"/>
<rect x="161.75" y="141.2" width="1.9" height="5.7" fill="#111"/>
<rect x="170.55" y="150.7" width="1.9" height="5.2" fill="#111"/>
<rect x="194.45" y="160.9" width="1.9" height="5.5" fill="#111"/>
<rect x="219.25" y="172.4" width="1.9" height="6" fill="#111"/>
<rect x="246.75" y="181.2" width="1.9" height="6" fill="#111"/>
<rect x="274.25" y="193.2" width="1.9" height="6" fill="#111"/>
<path d="M68.2,0.5 V7.5 M68.2,16.5 V100" stroke="#333" stroke-width="1" stroke-dasharray="4,3" fill="none"/>
<path d="M222.6,158.5 L222.6,153.2 L225.9,153.2 L225.9,158.5" fill="none" stroke="#222" stroke-width="0.8" stroke-linejoin="round" />
<path d="M224.6,180.5 V185.5" stroke="#555" stroke-width="0.9" fill="none"/>
<path d="M171.6,129 V133.5" stroke="#777" stroke-width="0.8" fill="none"/>
<text x="42" y="28.7" font-size="8.2" text-anchor="start" letter-spacing="-0.3">P13</text>
<text x="60.8" y="46.5" font-size="8.2" text-anchor="start" letter-spacing="-0.3">P14</text>
<text x="82" y="65" font-size="8.2" text-anchor="start" letter-spacing="-0.3">P15</text>
<text x="102.8" y="83.5" font-size="8.2" text-anchor="start" letter-spacing="-0.3">P16</text>
<text x="125" y="98.7" font-size="8.2" text-anchor="start" letter-spacing="-0.3">P17</text>
<text x="148.4" y="113.7" font-size="8.2" text-anchor="start" letter-spacing="-0.3">P18</text>
<text x="162" y="123.3" font-size="8.2" text-anchor="start" letter-spacing="-0.3">Fe</text>
<text x="173.6" y="128.9" font-size="8.2" text-anchor="start" letter-spacing="-0.3">P19</text>
<text x="199.5" y="140.7" font-size="8.2" text-anchor="start" letter-spacing="-0.3">P20</text>
<text x="217.2" y="149" font-size="8.2" text-anchor="start" letter-spacing="-0.3">Al</text>
<text x="226.6" y="153" font-size="8.2" text-anchor="start" letter-spacing="-0.3">P21</text>
<text x="255.4" y="161.5" font-size="8.2" text-anchor="start" letter-spacing="-0.3">P22</text>
<text x="42.9" y="85.3" font-size="8.2" text-anchor="start" letter-spacing="-0.3">P10</text>
<text x="60.4" y="106.7" font-size="8.2" text-anchor="start" letter-spacing="-0.3">P11</text>
<text x="78.8" y="117.2" font-size="8.2" text-anchor="start" letter-spacing="-0.3">P12</text>
<text x="98.8" y="128.5" font-size="8.2" text-anchor="start" letter-spacing="-0.3">P13</text>
<text x="119" y="142.2" font-size="8.2" text-anchor="start" letter-spacing="-0.3">P14</text>
<text x="142" y="156" font-size="8.2" text-anchor="start" letter-spacing="-0.3">P15</text>
<text x="157.5" y="156" font-size="8.2" text-anchor="start" letter-spacing="-0.3">Mg</text>
<text x="164.8" y="166.7" font-size="8.2" text-anchor="start" letter-spacing="-0.3">P16</text>
<text x="188.8" y="176.7" font-size="8.2" text-anchor="start" letter-spacing="-0.3">P17</text>
<text x="204.8" y="188.4" font-size="8.2" text-anchor="start" letter-spacing="-0.3">P18</text>
<text x="225.4" y="196" font-size="8.2" text-anchor="start" letter-spacing="-0.3">Mg</text>
<text x="241" y="196.1" font-size="8.2" text-anchor="start" letter-spacing="-0.3">P19</text>
<text x="269" y="208.8" font-size="8.2" text-anchor="start" letter-spacing="-0.3">P20</text>
<text x="63" y="15.3" font-size="8.2" text-anchor="start" letter-spacing="-0.3">Mg</text>
<path d="M345.9,18.14 L345.9,13.09 L348.6,15.7 L351.3,18.28 L354,20.82 L356.71,23.33 L359.41,25.81 L362.11,28.26 L364.81,30.68 L367.51,33.06 L370.21,35.42 L372.91,37.74 L375.61,40.03 L378.32,42.29 L381.02,44.51 L383.72,46.71 L386.42,48.88 L389.12,51.01 L391.82,53.12 L394.52,55.19 L397.22,57.24 L399.93,59.26 L402.63,61.24 L405.33,63.2 L408.03,65.13 L410.73,67.03 L413.43,68.9 L416.13,70.75 L418.83,72.57 L421.54,74.36 L424.24,76.12 L426.94,77.86 L429.64,79.57 L432.34,81.26 L435.04,82.92 L437.74,84.55 L440.44,86.16 L443.15,87.75 L445.85,89.32 L448.55,90.86 L451.25,92.38 L453.95,93.87 L456.65,95.35 L459.35,96.8 L462.05,98.24 L464.76,99.65 L467.46,101.05 L470.16,102.42 L472.86,103.78 L475.56,105.12 L478.26,106.44 L480.96,107.75 L483.66,109.04 L486.37,110.31 L489.07,111.57 L491.77,112.82 L494.47,114.05 L497.17,115.27 L499.87,116.48 L502.57,117.68 L505.27,118.86 L507.98,120.04 L510.68,121.21 L513.38,122.37 L516.08,123.52 L518.78,124.67 L521.48,125.8 L524.18,126.94 L526.88,128.07 L529.59,129.19 L532.29,130.32 L534.99,131.44 L537.69,132.56 L540.39,133.68 L543.09,134.8 L545.79,135.92 L548.49,137.05 L551.2,138.18 L553.9,139.31 L556.6,140.45 L559.3,141.59 L559.3,146.52" fill="none" stroke="#111" stroke-width="0.9" stroke-linejoin="round" />
<path d="M346.9,86.74 L346.9,92.22 L349.76,94.81 L352.61,97.34 L355.47,99.81 L358.32,102.22 L361.18,104.56 L364.03,106.86 L366.89,109.09 L369.75,111.28 L372.6,113.42 L375.46,115.51 L378.31,117.55 L381.17,119.55 L384.02,121.51 L386.88,123.43 L389.74,125.31 L392.59,127.16 L395.45,128.96 L398.3,130.74 L401.16,132.48 L404.01,134.2 L406.87,135.88 L409.73,137.54 L412.58,139.17 L415.44,140.78 L418.29,142.36 L421.15,143.92 L424,145.46 L426.86,146.98 L429.72,148.48 L432.57,149.96 L435.43,151.43 L438.28,152.88 L441.14,154.31 L443.99,155.73 L446.85,157.14 L449.71,158.53 L452.56,159.91 L455.42,161.28 L458.27,162.64 L461.13,163.99 L463.98,165.33 L466.84,166.65 L469.69,167.97 L472.55,169.28 L475.41,170.58 L478.26,171.88 L481.12,173.16 L483.97,174.43 L486.83,175.7 L489.68,176.96 L492.54,178.21 L495.4,179.45 L498.25,180.69 L501.11,181.91 L503.96,183.13 L506.82,184.34 L509.67,185.53 L512.53,186.72 L515.39,187.9 L518.24,189.07 L521.1,190.22 L523.95,191.36 L526.81,192.49 L529.66,193.61 L532.52,194.71 L535.38,195.8 L538.23,196.88 L541.09,197.93 L543.94,198.97 L546.8,199.99 L549.65,200.99 L552.51,201.97 L555.37,202.93 L558.22,203.87 L561.08,204.78 L563.93,205.67 L566.79,206.53 L569.64,207.36 L572.5,208.16 L572.5,202.29" fill="none" stroke="#111" stroke-width="0.9" stroke-linejoin="round" />
<path d="M386.1,48.62 V54.02 M406.9,64.32 V69.72 M429.5,79.48 V84.88 M452.9,93.29 V98.69 M477.7,106.17 V111.57 M503.7,118.17 V123.57 M531.3,129.91 V135.31 M365,107.61 V102.61 M383.3,121.02 V116.02 M402.7,133.41 V128.41 M423.7,145.3 V140.3 M445.9,156.67 V151.67 M468.6,167.47 V162.47 M492.6,178.24 V173.24 M517.9,188.93 V183.93 M544.7,199.24 V194.24" stroke="#111" stroke-width="0.9" fill="none"/>
<rect x="345.15" y="32.23" width="1.9" height="5.17" fill="#111"/>
<rect x="364.15" y="49.66" width="1.9" height="6.71" fill="#111"/>
<rect x="385.05" y="66.91" width="1.9" height="5.75" fill="#111"/>
<rect x="406.05" y="85.3" width="1.9" height="5.75" fill="#111"/>
<rect x="428.65" y="100.25" width="1.9" height="5.75" fill="#111"/>
<rect x="451.95" y="113.66" width="1.9" height="5.75" fill="#111"/>
<rect x="476.85" y="128.61" width="1.9" height="5.75" fill="#111"/>
<rect x="503.65" y="140.11" width="1.9" height="5.65" fill="#111"/>
<rect x="530.35" y="151.12" width="1.9" height="5.84" fill="#111"/>
<rect x="558.85" y="160.23" width="1.9" height="5.94" fill="#111"/>
<rect x="345.15" y="66.14" width="1.9" height="5.75" fill="#111"/>
<rect x="364.55" y="86.45" width="1.9" height="6.9" fill="#111"/>
<rect x="382.15" y="96.8" width="1.9" height="5.75" fill="#111"/>
<rect x="401.75" y="107.82" width="1.9" height="5.65" fill="#111"/>
<rect x="422.85" y="120.94" width="1.9" height="5.65" fill="#111"/>
<rect x="444.95" y="132.82" width="1.9" height="5.75" fill="#111"/>
<rect x="459.05" y="135.79" width="1.9" height="5.46" fill="#111"/>
<rect x="467.85" y="144.9" width="1.9" height="4.98" fill="#111"/>
<rect x="491.75" y="154.67" width="1.9" height="5.27" fill="#111"/>
<rect x="516.55" y="165.69" width="1.9" height="5.75" fill="#111"/>
<rect x="544.05" y="174.12" width="1.9" height="5.75" fill="#111"/>
<rect x="571.55" y="185.61" width="1.9" height="5.75" fill="#111"/>
<path d="M365.5,0.99 V7.7 M365.5,16.32 V96.32" stroke="#333" stroke-width="1" stroke-dasharray="4,3" fill="none"/>
<path d="M519.9,152.37 L519.9,147.29 L523.2,147.29 L523.2,152.37" fill="none" stroke="#222" stroke-width="0.8" stroke-linejoin="round" />
<path d="M521.9,173.45 V178.24" stroke="#555" stroke-width="0.9" fill="none"/>
<path d="M468.9,124.11 V128.42" stroke="#777" stroke-width="0.8" fill="none"/>
<text x="339.3" y="28.01" font-size="8.2" text-anchor="start" letter-spacing="-0.3">P13</text>
<text x="358.1" y="45.06" font-size="8.2" text-anchor="start" letter-spacing="-0.3">P14</text>
<text x="379.3" y="62.79" font-size="8.2" text-anchor="start" letter-spacing="-0.3">P15</text>
<text x="400.1" y="80.51" font-size="8.2" text-anchor="start" letter-spacing="-0.3">P16</text>
<text x="422.3" y="95.08" font-size="8.2" text-anchor="start" letter-spacing="-0.3">P17</text>
<text x="445.7" y="109.45" font-size="8.2" text-anchor="start" letter-spacing="-0.3">P18</text>
<text x="459.3" y="118.64" font-size="8.2" text-anchor="start" letter-spacing="-0.3">Fe</text>
<text x="470.9" y="124.01" font-size="8.2" text-anchor="start" letter-spacing="-0.3">P19</text>
<text x="496.8" y="135.31" font-size="8.2" text-anchor="start" letter-spacing="-0.3">P20</text>
<text x="514.5" y="143.27" font-size="8.2" text-anchor="start" letter-spacing="-0.3">Al</text>
<text x="523.9" y="147.1" font-size="8.2" text-anchor="start" letter-spacing="-0.3">P21</text>
<text x="552.7" y="155.24" font-size="8.2" text-anchor="start" letter-spacing="-0.3">P22</text>
<text x="340.2" y="82.24" font-size="8.2" text-anchor="start" letter-spacing="-0.3">P10</text>
<text x="357.7" y="102.74" font-size="8.2" text-anchor="start" letter-spacing="-0.3">P11</text>
<text x="376.1" y="112.8" font-size="8.2" text-anchor="start" letter-spacing="-0.3">P12</text>
<text x="396.1" y="123.63" font-size="8.2" text-anchor="start" letter-spacing="-0.3">P13</text>
<text x="416.3" y="136.75" font-size="8.2" text-anchor="start" letter-spacing="-0.3">P14</text>
<text x="439.3" y="149.97" font-size="8.2" text-anchor="start" letter-spacing="-0.3">P15</text>
<text x="454.8" y="149.97" font-size="8.2" text-anchor="start" letter-spacing="-0.3">Mg</text>
<text x="462.1" y="160.23" font-size="8.2" text-anchor="start" letter-spacing="-0.3">P16</text>
<text x="486.1" y="169.81" font-size="8.2" text-anchor="start" letter-spacing="-0.3">P17</text>
<text x="502.1" y="181.02" font-size="8.2" text-anchor="start" letter-spacing="-0.3">P18</text>
<text x="522.7" y="188.3" font-size="8.2" text-anchor="start" letter-spacing="-0.3">Mg</text>
<text x="538.3" y="188.39" font-size="8.2" text-anchor="start" letter-spacing="-0.3">P19</text>
<text x="566.3" y="200.56" font-size="8.2" text-anchor="start" letter-spacing="-0.3">P20</text>
<text x="360.3" y="15.17" font-size="8.2" text-anchor="start" letter-spacing="-0.3">Mg</text>
<text x="266.9" y="103.2" font-size="8.0" text-anchor="start" >K1.5 III</text>
<text x="268.7" y="141.8" font-size="8.0" text-anchor="start" >OH 1&#8211;0</text>
<text x="269" y="226.6" font-size="8.0" text-anchor="start" >OH 2&#8211;1</text>
<text x="275" y="242.6" font-size="8.0" text-anchor="start" >K5 Ib</text>
<text x="271.6" y="252.6" font-size="8.0" text-anchor="start" >SiO</text>
<text x="267" y="312.9" font-size="8.0" text-anchor="start" >K5.5 III</text>
<text x="275.3" y="356.1" font-size="8.0" text-anchor="start" >K5&#160;&#160;V</text>
<text x="564.4" y="95.5" font-size="8.0" text-anchor="start" >K1.5 III</text>
<text x="566" y="135.8" font-size="8.0" text-anchor="start" >OH 1&#8211;0</text>
<text x="566" y="217.9" font-size="8.0" text-anchor="start" >OH 2&#8211;1</text>
<text x="560" y="232.4" font-size="8.0" text-anchor="start" >M5 Ib&#8211;II</text>
<text x="569" y="242.1" font-size="8.0" text-anchor="start" >SiO</text>
<text x="562.2" y="297.5" font-size="8.0" text-anchor="start" >M5.5 III</text>
<text x="571.6" y="353.8" font-size="8.0" text-anchor="start" >M5&#160;&#160;V</text>
<path d="M270.1,262 V257.2 H302 M282.9,257.2 V262 M296.2,257.2 V262" stroke="#111" stroke-width="0.9" fill="none"/>
<path d="M567.2,251.2 V246.2 H599 M580.5,246.2 V251.2 M593.8,246.2 V251.2" stroke="#111" stroke-width="0.9" fill="none"/>
<text x="30.3" y="21.5" font-size="10.0" text-anchor="end" textLength="13" lengthAdjust="spacingAndGlyphs">2.5</text>
<text x="30.3" y="105" font-size="10.0" text-anchor="end" textLength="13" lengthAdjust="spacingAndGlyphs">2.0</text>
<text x="30.3" y="188.5" font-size="10.0" text-anchor="end" textLength="13" lengthAdjust="spacingAndGlyphs">1.5</text>
<text x="30.3" y="272" font-size="10.0" text-anchor="end" textLength="13" lengthAdjust="spacingAndGlyphs">1.0</text>
<text x="30.3" y="355.5" font-size="10.0" text-anchor="end" textLength="13" lengthAdjust="spacingAndGlyphs">0.5</text>
<text x="69.27" y="400" font-size="10.0" text-anchor="middle" textLength="13" lengthAdjust="spacingAndGlyphs">3.4</text>
<text x="135.81" y="400" font-size="10.0" text-anchor="middle" textLength="13" lengthAdjust="spacingAndGlyphs">3.6</text>
<text x="202.35" y="400" font-size="10.0" text-anchor="middle" textLength="13" lengthAdjust="spacingAndGlyphs">3.8</text>
<text x="268.89" y="400" font-size="10.0" text-anchor="middle" textLength="13" lengthAdjust="spacingAndGlyphs">4.0</text>
<text x="169" y="414.3" font-size="9.6" text-anchor="middle" >Wavelength (&#956;m)</text>
<text x="327.6" y="20.8" font-size="10.0" text-anchor="end" textLength="13" lengthAdjust="spacingAndGlyphs">2.5</text>
<text x="327.6" y="100.83" font-size="10.0" text-anchor="end" textLength="13" lengthAdjust="spacingAndGlyphs">2.0</text>
<text x="327.6" y="180.85" font-size="10.0" text-anchor="end" textLength="13" lengthAdjust="spacingAndGlyphs">1.5</text>
<text x="327.6" y="260.87" font-size="10.0" text-anchor="end" textLength="13" lengthAdjust="spacingAndGlyphs">1.0</text>
<text x="327.6" y="340.89" font-size="10.0" text-anchor="end" textLength="13" lengthAdjust="spacingAndGlyphs">0.5</text>
<text x="366.45" y="400" font-size="10.0" text-anchor="middle" textLength="13" lengthAdjust="spacingAndGlyphs">3.4</text>
<text x="432.95" y="400" font-size="10.0" text-anchor="middle" textLength="13" lengthAdjust="spacingAndGlyphs">3.6</text>
<text x="499.45" y="400" font-size="10.0" text-anchor="middle" textLength="13" lengthAdjust="spacingAndGlyphs">3.8</text>
<text x="565.95" y="400" font-size="10.0" text-anchor="middle" textLength="13" lengthAdjust="spacingAndGlyphs">4.0</text>
<text x="466.1" y="414.3" font-size="9.6" text-anchor="middle" >Wavelength (&#956;m)</text>
<text transform="translate(9.8,192) rotate(-90)" font-size="9.6" text-anchor="middle"><tspan font-style="italic">f</tspan><tspan font-size="6.5" dy="2">&#955;</tspan><tspan dy="-2"> /</tspan><tspan font-style="italic">f</tspan><tspan font-size="6.5" dy="2">&#955;</tspan><tspan dy="-2"> (3.60 &#956;m) + Constant</tspan></text>
</g>
</svg></body></html>
